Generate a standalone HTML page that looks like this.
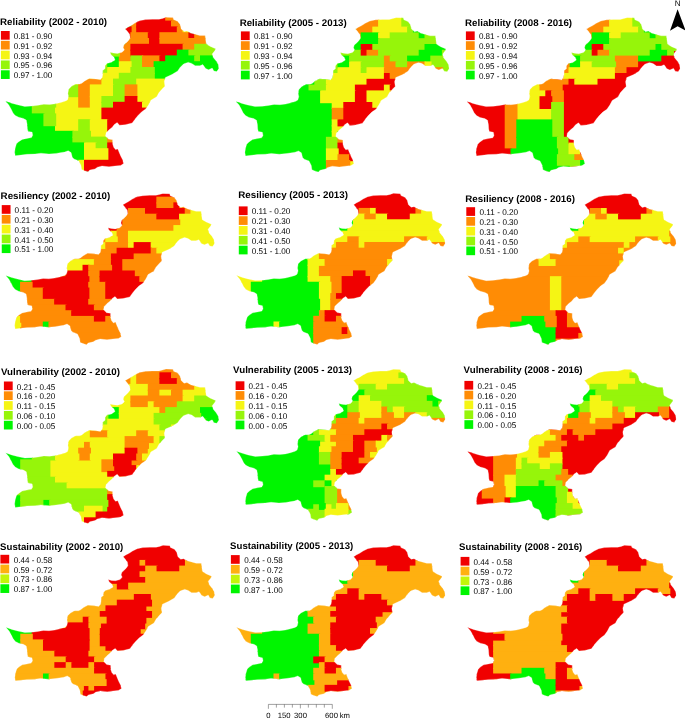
<!DOCTYPE html><html><head><meta charset="utf-8"><title>Maps</title><style>html,body{margin:0;padding:0;background:#fff}svg{display:block}text{font-family:"Liberation Sans",Arial,sans-serif;fill:#000;text-rendering:geometricPrecision}</style></head><body><svg width="685" height="718" viewBox="0 0 685 718"><rect width="685" height="718" fill="#fff"/><defs><clipPath id="pk"><path d="M5.5,101.0 11.7,103.2 17.5,104.8 24.8,106.4 32.1,106.0 38.0,105.3 43.8,104.2 49.6,104.5 55.5,103.8 60.7,102.6 65.4,101.1 67.5,99.9 68.5,96.5 67.9,93.6 68.6,89.2 71.5,86.3 75.9,84.1 79.6,84.1 81.8,83.2 84.7,80.9 89.3,78.5 95.8,79.0 100.4,79.7 102.2,77.4 102.8,73.9 102.8,70.4 105.1,68.6 105.1,65.7 106.9,63.4 111.5,62.2 115.0,59.9 113.9,57.0 110.9,54.6 110.1,52.3 113.3,53.1 117.4,53.5 122.0,52.3 124.4,50.0 123.2,47.6 123.8,45.3 125.5,43.5 127.9,41.2 130.2,38.3 129.6,34.2 127.3,31.3 125.3,28.9 127.9,27.2 131.4,25.4 134.9,23.1 139.6,20.8 145.4,19.6 152.4,19.2 159.0,19.2 162.5,18.4 166.0,17.3 173.0,17.6 173.6,19.6 177.7,21.4 180.0,24.3 181.2,28.9 184.1,31.6 187.0,30.9 190.5,33.0 195.2,34.2 199.9,35.6 205.1,35.6 205.7,40.0 206.3,44.1 210.4,46.5 215.7,48.8 214.5,51.1 212.2,54.0 213.3,57.6 216.2,61.1 218.3,64.6 218.8,68.6 216.8,71.6 213.9,71.0 212.2,68.1 208.6,69.8 205.7,68.6 202.8,64.6 199.9,65.7 195.2,65.7 191.7,63.4 188.2,62.2 183.5,64.0 180.0,67.5 177.7,71.0 171.9,74.5 165.4,77.4 164.3,81.5 164.9,86.2 162.6,88.5 159.0,92.6 156.7,96.7 150.9,100.2 148.5,104.9 145.6,109.0 141.5,111.9 138.0,115.4 135.1,118.9 132.2,123.0 125.2,124.7 119.5,125.2 117.2,122.6 114.3,124.5 112.0,127.4 109.0,129.8 106.1,132.7 105.5,136.2 108.5,139.1 112.6,139.7 112.6,143.8 113.7,147.3 115.5,149.6 117.8,149.0 119.0,152.0 120.7,156.1 122.5,159.6 123.6,163.6 120.7,165.4 114.9,166.0 109.0,166.8 102.0,166.0 97.4,167.2 95.0,168.9 89.8,170.1 88.0,171.8 84.5,170.7 81.6,169.5 81.0,165.4 78.7,160.7 74.0,159.0 72.3,157.2 71.1,152.6 68.2,150.7 64.7,152.0 60.0,152.7 56.0,153.4 49.0,154.0 40.9,153.2 35.0,154.0 26.9,154.3 21.0,155.1 15.2,155.7 14.6,152.2 15.2,148.1 16.4,144.0 18.7,141.7 22.2,139.4 26.9,138.4 31.5,137.6 32.7,135.3 32.1,132.1 28.0,131.2 27.4,128.9 27.1,124.2 26.3,120.1 23.4,118.4 18.7,117.2 15.2,115.4 12.8,112.5 11.1,109.0 8.8,104.9Z"/></clipPath></defs><g transform="translate(0,0) scale(1)"><g clip-path="url(#pk)"><rect x="2.8" y="3.2" width="221.6" height="12.8" fill="#00f500"/><rect x="2.8" y="171.4" width="221.6" height="7.0" fill="#00f500"/><rect x="2.8" y="14.8" width="99.8" height="7.0" fill="#00f500"/><rect x="2.8" y="49.6" width="99.8" height="7.0" fill="#00f500"/><rect x="2.8" y="61.2" width="99.8" height="12.8" fill="#00f500"/><rect x="101.4" y="14.8" width="65.0" height="7.0" fill="#f00000"/><rect x="165.2" y="14.8" width="24.4" height="7.0" fill="#ff8c05"/><rect x="188.4" y="14.8" width="36.0" height="18.6" fill="#00f500"/><rect x="2.8" y="20.6" width="128.8" height="7.0" fill="#00f500"/><rect x="130.4" y="20.6" width="7.0" height="12.8" fill="#ff8c05"/><rect x="136.2" y="20.6" width="36.0" height="7.0" fill="#f00000"/><rect x="171.0" y="20.6" width="18.6" height="7.0" fill="#ff8c05"/><rect x="2.8" y="26.4" width="123.0" height="18.6" fill="#00f500"/><rect x="124.6" y="26.4" width="7.0" height="12.8" fill="#f00000"/><rect x="136.2" y="26.4" width="41.8" height="7.0" fill="#f00000"/><rect x="176.8" y="26.4" width="7.0" height="7.0" fill="#ff8c05"/><rect x="182.6" y="26.4" width="7.0" height="7.0" fill="#f5f514"/><rect x="130.4" y="32.2" width="18.6" height="7.0" fill="#ff8c05"/><rect x="147.8" y="32.2" width="12.8" height="12.8" fill="#f00000"/><rect x="159.4" y="32.2" width="30.2" height="7.0" fill="#ff8c05"/><rect x="188.4" y="32.2" width="7.0" height="7.0" fill="#f00000"/><rect x="194.2" y="32.2" width="12.8" height="7.0" fill="#ff8c05"/><rect x="205.8" y="32.2" width="18.6" height="12.8" fill="#00f500"/><rect x="124.6" y="38.0" width="24.4" height="7.0" fill="#ff8c05"/><rect x="159.4" y="38.0" width="47.6" height="7.0" fill="#ff8c05"/><rect x="2.8" y="43.8" width="117.2" height="7.0" fill="#00f500"/><rect x="2.8" y="55.4" width="117.2" height="7.0" fill="#00f500"/><rect x="118.8" y="43.8" width="12.8" height="18.6" fill="#ff8c05"/><rect x="130.4" y="43.8" width="53.4" height="7.0" fill="#f00000"/><rect x="182.6" y="43.8" width="12.8" height="7.0" fill="#ff8c05"/><rect x="194.2" y="43.8" width="30.2" height="7.0" fill="#96f50a"/><rect x="101.4" y="49.6" width="18.6" height="7.0" fill="#96f50a"/><rect x="130.4" y="49.6" width="47.6" height="7.0" fill="#f00000"/><rect x="176.8" y="49.6" width="12.8" height="7.0" fill="#00f500"/><rect x="188.4" y="49.6" width="30.2" height="7.0" fill="#96f50a"/><rect x="217.4" y="49.6" width="7.0" height="7.0" fill="#00f500"/><rect x="130.4" y="55.4" width="12.8" height="12.8" fill="#96f50a"/><rect x="142.0" y="55.4" width="18.6" height="7.0" fill="#ff8c05"/><rect x="159.4" y="55.4" width="7.0" height="7.0" fill="#f00000"/><rect x="165.2" y="55.4" width="30.2" height="7.0" fill="#00f500"/><rect x="194.2" y="55.4" width="7.0" height="7.0" fill="#96f50a"/><rect x="200.0" y="55.4" width="24.4" height="7.0" fill="#00f500"/><rect x="101.4" y="61.2" width="7.0" height="12.8" fill="#96f50a"/><rect x="107.2" y="61.2" width="12.8" height="7.0" fill="#00f500"/><rect x="118.8" y="61.2" width="12.8" height="7.0" fill="#f5f514"/><rect x="142.0" y="61.2" width="12.8" height="7.0" fill="#ff8c05"/><rect x="153.6" y="61.2" width="70.8" height="18.6" fill="#00f500"/><rect x="107.2" y="67.0" width="24.4" height="7.0" fill="#f5f514"/><rect x="130.4" y="67.0" width="24.4" height="7.0" fill="#96f50a"/><rect x="2.8" y="72.8" width="53.4" height="30.2" fill="#00f500"/><rect x="2.8" y="125.0" width="53.4" height="7.0" fill="#00f500"/><rect x="55.0" y="72.8" width="65.0" height="7.0" fill="#f5f514"/><rect x="118.8" y="72.8" width="36.0" height="7.0" fill="#96f50a"/><rect x="55.0" y="78.6" width="24.4" height="7.0" fill="#f5f514"/><rect x="55.0" y="96.0" width="24.4" height="12.8" fill="#f5f514"/><rect x="55.0" y="119.2" width="24.4" height="12.8" fill="#f5f514"/><rect x="78.2" y="78.6" width="24.4" height="7.0" fill="#ff8c05"/><rect x="101.4" y="78.6" width="12.8" height="7.0" fill="#f5f514"/><rect x="113.0" y="78.6" width="24.4" height="7.0" fill="#96f50a"/><rect x="136.2" y="78.6" width="47.6" height="24.4" fill="#f5f514"/><rect x="182.6" y="78.6" width="41.8" height="59.2" fill="#00f500"/><rect x="55.0" y="84.4" width="12.8" height="12.8" fill="#f5f514"/><rect x="66.6" y="84.4" width="12.8" height="12.8" fill="#96f50a"/><rect x="78.2" y="84.4" width="12.8" height="24.4" fill="#ff8c05"/><rect x="89.8" y="84.4" width="24.4" height="12.8" fill="#f5f514"/><rect x="113.0" y="84.4" width="12.8" height="12.8" fill="#96f50a"/><rect x="124.6" y="84.4" width="12.8" height="12.8" fill="#ff8c05"/><rect x="89.8" y="96.0" width="12.8" height="12.8" fill="#f5f514"/><rect x="101.4" y="96.0" width="24.4" height="7.0" fill="#96f50a"/><rect x="124.6" y="96.0" width="12.8" height="7.0" fill="#f00000"/><rect x="2.8" y="101.8" width="30.2" height="12.8" fill="#00f500"/><rect x="31.8" y="101.8" width="24.4" height="12.8" fill="#96f50a"/><rect x="101.4" y="101.8" width="12.8" height="7.0" fill="#96f50a"/><rect x="113.0" y="101.8" width="30.2" height="7.0" fill="#f00000"/><rect x="142.0" y="101.8" width="41.8" height="7.0" fill="#f5f514"/><rect x="55.0" y="107.6" width="47.6" height="12.8" fill="#f5f514"/><rect x="101.4" y="107.6" width="82.4" height="12.8" fill="#f00000"/><rect x="2.8" y="113.4" width="41.8" height="12.8" fill="#00f500"/><rect x="43.4" y="113.4" width="12.8" height="12.8" fill="#96f50a"/><rect x="78.2" y="119.2" width="12.8" height="12.8" fill="#96f50a"/><rect x="89.8" y="119.2" width="18.6" height="18.6" fill="#f5f514"/><rect x="107.2" y="119.2" width="76.6" height="18.6" fill="#f00000"/><rect x="2.8" y="130.8" width="70.8" height="12.8" fill="#00f500"/><rect x="72.4" y="130.8" width="18.6" height="7.0" fill="#96f50a"/><rect x="72.4" y="136.6" width="36.0" height="7.0" fill="#96f50a"/><rect x="107.2" y="136.6" width="7.0" height="7.0" fill="#ff8c05"/><rect x="113.0" y="136.6" width="111.4" height="7.0" fill="#00f500"/><rect x="2.8" y="142.4" width="82.4" height="18.6" fill="#00f500"/><rect x="84.0" y="142.4" width="12.8" height="7.0" fill="#f5f514"/><rect x="95.6" y="142.4" width="12.8" height="7.0" fill="#96f50a"/><rect x="107.2" y="142.4" width="24.4" height="18.6" fill="#f00000"/><rect x="130.4" y="142.4" width="94.0" height="30.2" fill="#00f500"/><rect x="84.0" y="148.2" width="24.4" height="12.8" fill="#f5f514"/><rect x="2.8" y="159.8" width="76.6" height="12.8" fill="#00f500"/><rect x="78.2" y="159.8" width="7.0" height="12.8" fill="#f5f514"/><rect x="84.0" y="159.8" width="47.6" height="12.8" fill="#f00000"/></g><path d="M5.5,101.0 11.7,103.2 17.5,104.8 24.8,106.4 32.1,106.0 38.0,105.3 43.8,104.2 49.6,104.5 55.5,103.8 60.7,102.6 65.4,101.1 67.5,99.9 68.5,96.5 67.9,93.6 68.6,89.2 71.5,86.3 75.9,84.1 79.6,84.1 81.8,83.2 84.7,80.9 89.3,78.5 95.8,79.0 100.4,79.7 102.2,77.4 102.8,73.9 102.8,70.4 105.1,68.6 105.1,65.7 106.9,63.4 111.5,62.2 115.0,59.9 113.9,57.0 110.9,54.6 110.1,52.3 113.3,53.1 117.4,53.5 122.0,52.3 124.4,50.0 123.2,47.6 123.8,45.3 125.5,43.5 127.9,41.2 130.2,38.3 129.6,34.2 127.3,31.3 125.3,28.9 127.9,27.2 131.4,25.4 134.9,23.1 139.6,20.8 145.4,19.6 152.4,19.2 159.0,19.2 162.5,18.4 166.0,17.3 173.0,17.6 173.6,19.6 177.7,21.4 180.0,24.3 181.2,28.9 184.1,31.6 187.0,30.9 190.5,33.0 195.2,34.2 199.9,35.6 205.1,35.6 205.7,40.0 206.3,44.1 210.4,46.5 215.7,48.8 214.5,51.1 212.2,54.0 213.3,57.6 216.2,61.1 218.3,64.6 218.8,68.6 216.8,71.6 213.9,71.0 212.2,68.1 208.6,69.8 205.7,68.6 202.8,64.6 199.9,65.7 195.2,65.7 191.7,63.4 188.2,62.2 183.5,64.0 180.0,67.5 177.7,71.0 171.9,74.5 165.4,77.4 164.3,81.5 164.9,86.2 162.6,88.5 159.0,92.6 156.7,96.7 150.9,100.2 148.5,104.9 145.6,109.0 141.5,111.9 138.0,115.4 135.1,118.9 132.2,123.0 125.2,124.7 119.5,125.2 117.2,122.6 114.3,124.5 112.0,127.4 109.0,129.8 106.1,132.7 105.5,136.2 108.5,139.1 112.6,139.7 112.6,143.8 113.7,147.3 115.5,149.6 117.8,149.0 119.0,152.0 120.7,156.1 122.5,159.6 123.6,163.6 120.7,165.4 114.9,166.0 109.0,166.8 102.0,166.0 97.4,167.2 95.0,168.9 89.8,170.1 88.0,171.8 84.5,170.7 81.6,169.5 81.0,165.4 78.7,160.7 74.0,159.0 72.3,157.2 71.1,152.6 68.2,150.7 64.7,152.0 60.0,152.7 56.0,153.4 49.0,154.0 40.9,153.2 35.0,154.0 26.9,154.3 21.0,155.1 15.2,155.7 14.6,152.2 15.2,148.1 16.4,144.0 18.7,141.7 22.2,139.4 26.9,138.4 31.5,137.6 32.7,135.3 32.1,132.1 28.0,131.2 27.4,128.9 27.1,124.2 26.3,120.1 23.4,118.4 18.7,117.2 15.2,115.4 12.8,112.5 11.1,109.0 8.8,104.9Z" fill="none" stroke="#fff" stroke-opacity="0.35" stroke-width="0.8"/></g><text x="0.10" y="24.90" font-size="9.6" font-weight="bold" textLength="107.0" lengthAdjust="spacingAndGlyphs">Reliability (2002 - 2010)</text><rect x="0.9" y="31.00" width="8.8" height="8.7" fill="#f00000"/><text x="13.70" y="39.00" font-size="8.3" textLength="38.6" lengthAdjust="spacingAndGlyphs" fill="#111">0.81 - 0.90</text><rect x="0.9" y="40.82" width="8.8" height="8.7" fill="#ff8c05"/><text x="13.70" y="48.82" font-size="8.3" textLength="38.6" lengthAdjust="spacingAndGlyphs" fill="#111">0.91 - 0.92</text><rect x="0.9" y="50.64" width="8.8" height="8.7" fill="#f5f514"/><text x="13.70" y="58.64" font-size="8.3" textLength="38.6" lengthAdjust="spacingAndGlyphs" fill="#111">0.93 - 0.94</text><rect x="0.9" y="60.46" width="8.8" height="8.7" fill="#96f50a"/><text x="13.70" y="68.46" font-size="8.3" textLength="38.6" lengthAdjust="spacingAndGlyphs" fill="#111">0.95 - 0.96</text><rect x="0.9" y="70.28" width="8.8" height="8.7" fill="#00f500"/><text x="13.70" y="78.28" font-size="8.3" textLength="38.6" lengthAdjust="spacingAndGlyphs" fill="#111">0.97 - 1.00</text><g transform="translate(230.3,0.2) scale(1)"><g clip-path="url(#pk)"><rect x="2.8" y="3.2" width="221.6" height="12.8" fill="#00f500"/><rect x="2.8" y="171.4" width="221.6" height="7.0" fill="#00f500"/><rect x="2.8" y="14.8" width="123.0" height="24.4" fill="#00f500"/><rect x="124.6" y="14.8" width="24.4" height="12.8" fill="#ff8c05"/><rect x="147.8" y="14.8" width="24.4" height="12.8" fill="#f5f514"/><rect x="171.0" y="14.8" width="18.6" height="12.8" fill="#96f50a"/><rect x="188.4" y="14.8" width="36.0" height="12.8" fill="#00f500"/><rect x="124.6" y="26.4" width="18.6" height="7.0" fill="#ff8c05"/><rect x="142.0" y="26.4" width="36.0" height="7.0" fill="#f5f514"/><rect x="176.8" y="26.4" width="7.0" height="7.0" fill="#96f50a"/><rect x="182.6" y="26.4" width="41.8" height="7.0" fill="#00f500"/><rect x="124.6" y="32.2" width="7.0" height="7.0" fill="#ff8c05"/><rect x="130.4" y="32.2" width="18.6" height="7.0" fill="#00f500"/><rect x="147.8" y="32.2" width="12.8" height="7.0" fill="#f5f514"/><rect x="159.4" y="32.2" width="30.2" height="7.0" fill="#96f50a"/><rect x="188.4" y="32.2" width="7.0" height="7.0" fill="#00f500"/><rect x="194.2" y="32.2" width="18.6" height="7.0" fill="#96f50a"/><rect x="211.6" y="32.2" width="12.8" height="12.8" fill="#00f500"/><rect x="2.8" y="38.0" width="146.2" height="7.0" fill="#00f500"/><rect x="147.8" y="38.0" width="65.0" height="7.0" fill="#96f50a"/><rect x="2.8" y="43.8" width="128.8" height="7.0" fill="#00f500"/><rect x="130.4" y="43.8" width="12.8" height="7.0" fill="#f00000"/><rect x="142.0" y="43.8" width="53.4" height="7.0" fill="#96f50a"/><rect x="194.2" y="43.8" width="30.2" height="7.0" fill="#00f500"/><rect x="2.8" y="49.6" width="99.8" height="7.0" fill="#00f500"/><rect x="2.8" y="61.2" width="99.8" height="18.6" fill="#00f500"/><rect x="2.8" y="101.8" width="99.8" height="36.0" fill="#00f500"/><rect x="101.4" y="49.6" width="30.2" height="7.0" fill="#96f50a"/><rect x="130.4" y="49.6" width="7.0" height="7.0" fill="#f00000"/><rect x="136.2" y="49.6" width="12.8" height="7.0" fill="#ff8c05"/><rect x="147.8" y="49.6" width="41.8" height="7.0" fill="#96f50a"/><rect x="188.4" y="49.6" width="24.4" height="7.0" fill="#00f500"/><rect x="211.6" y="49.6" width="12.8" height="7.0" fill="#96f50a"/><rect x="211.6" y="67.0" width="12.8" height="7.0" fill="#96f50a"/><rect x="2.8" y="55.4" width="117.2" height="7.0" fill="#00f500"/><rect x="118.8" y="55.4" width="36.0" height="7.0" fill="#96f50a"/><rect x="153.6" y="55.4" width="7.0" height="7.0" fill="#ff8c05"/><rect x="159.4" y="55.4" width="18.6" height="7.0" fill="#96f50a"/><rect x="176.8" y="55.4" width="24.4" height="7.0" fill="#00f500"/><rect x="200.0" y="55.4" width="24.4" height="12.8" fill="#96f50a"/><rect x="101.4" y="61.2" width="7.0" height="12.8" fill="#96f50a"/><rect x="107.2" y="61.2" width="12.8" height="7.0" fill="#00f500"/><rect x="118.8" y="61.2" width="12.8" height="7.0" fill="#f5f514"/><rect x="118.8" y="159.8" width="12.8" height="12.8" fill="#f5f514"/><rect x="130.4" y="61.2" width="24.4" height="7.0" fill="#96f50a"/><rect x="153.6" y="61.2" width="12.8" height="7.0" fill="#ff8c05"/><rect x="165.2" y="61.2" width="12.8" height="7.0" fill="#96f50a"/><rect x="176.8" y="61.2" width="18.6" height="7.0" fill="#ff8c05"/><rect x="194.2" y="61.2" width="7.0" height="7.0" fill="#f5f514"/><rect x="107.2" y="67.0" width="24.4" height="7.0" fill="#f5f514"/><rect x="130.4" y="67.0" width="7.0" height="7.0" fill="#96f50a"/><rect x="136.2" y="67.0" width="18.6" height="7.0" fill="#f5f514"/><rect x="153.6" y="67.0" width="30.2" height="7.0" fill="#ff8c05"/><rect x="182.6" y="67.0" width="18.6" height="7.0" fill="#00f500"/><rect x="200.0" y="67.0" width="12.8" height="7.0" fill="#ff8c05"/><rect x="101.4" y="72.8" width="53.4" height="7.0" fill="#f5f514"/><rect x="153.6" y="72.8" width="7.0" height="7.0" fill="#f00000"/><rect x="159.4" y="72.8" width="18.6" height="7.0" fill="#ff8c05"/><rect x="176.8" y="72.8" width="47.6" height="7.0" fill="#00f500"/><rect x="2.8" y="78.6" width="82.4" height="7.0" fill="#00f500"/><rect x="84.0" y="78.6" width="12.8" height="7.0" fill="#96f50a"/><rect x="95.6" y="78.6" width="41.8" height="7.0" fill="#f5f514"/><rect x="136.2" y="78.6" width="36.0" height="7.0" fill="#f00000"/><rect x="171.0" y="78.6" width="53.4" height="7.0" fill="#00f500"/><rect x="2.8" y="84.4" width="76.6" height="7.0" fill="#00f500"/><rect x="78.2" y="84.4" width="18.6" height="7.0" fill="#96f50a"/><rect x="95.6" y="84.4" width="30.2" height="7.0" fill="#f5f514"/><rect x="124.6" y="84.4" width="30.2" height="7.0" fill="#f00000"/><rect x="153.6" y="84.4" width="7.0" height="7.0" fill="#f5f514"/><rect x="159.4" y="84.4" width="7.0" height="7.0" fill="#f00000"/><rect x="165.2" y="84.4" width="59.2" height="18.6" fill="#00f500"/><rect x="2.8" y="90.2" width="88.2" height="12.8" fill="#00f500"/><rect x="89.8" y="90.2" width="36.0" height="12.8" fill="#f5f514"/><rect x="124.6" y="90.2" width="12.8" height="12.8" fill="#f00000"/><rect x="136.2" y="90.2" width="30.2" height="12.8" fill="#f5f514"/><rect x="101.4" y="101.8" width="12.8" height="7.0" fill="#f5f514"/><rect x="101.4" y="125.0" width="12.8" height="7.0" fill="#f5f514"/><rect x="113.0" y="101.8" width="30.2" height="7.0" fill="#f00000"/><rect x="142.0" y="101.8" width="18.6" height="7.0" fill="#f5f514"/><rect x="159.4" y="101.8" width="65.0" height="18.6" fill="#00f500"/><rect x="101.4" y="107.6" width="12.8" height="12.8" fill="#ff8c05"/><rect x="113.0" y="107.6" width="47.6" height="12.8" fill="#f00000"/><rect x="101.4" y="119.2" width="7.0" height="7.0" fill="#f5f514"/><rect x="101.4" y="130.8" width="7.0" height="7.0" fill="#f5f514"/><rect x="107.2" y="119.2" width="41.8" height="7.0" fill="#f00000"/><rect x="147.8" y="119.2" width="76.6" height="7.0" fill="#00f500"/><rect x="113.0" y="125.0" width="24.4" height="7.0" fill="#f00000"/><rect x="136.2" y="125.0" width="88.2" height="7.0" fill="#00f500"/><rect x="107.2" y="130.8" width="117.2" height="7.0" fill="#00f500"/><rect x="2.8" y="136.6" width="94.0" height="36.0" fill="#00f500"/><rect x="95.6" y="136.6" width="12.8" height="12.8" fill="#96f50a"/><rect x="107.2" y="136.6" width="7.0" height="7.0" fill="#ff8c05"/><rect x="113.0" y="136.6" width="111.4" height="7.0" fill="#00f500"/><rect x="107.2" y="142.4" width="24.4" height="12.8" fill="#f00000"/><rect x="130.4" y="142.4" width="94.0" height="30.2" fill="#00f500"/><rect x="95.6" y="148.2" width="12.8" height="12.8" fill="#f5f514"/><rect x="107.2" y="154.0" width="12.8" height="7.0" fill="#ff8c05"/><rect x="118.8" y="154.0" width="12.8" height="7.0" fill="#f00000"/><rect x="95.6" y="159.8" width="24.4" height="12.8" fill="#ff8c05"/></g><path d="M5.5,101.0 11.7,103.2 17.5,104.8 24.8,106.4 32.1,106.0 38.0,105.3 43.8,104.2 49.6,104.5 55.5,103.8 60.7,102.6 65.4,101.1 67.5,99.9 68.5,96.5 67.9,93.6 68.6,89.2 71.5,86.3 75.9,84.1 79.6,84.1 81.8,83.2 84.7,80.9 89.3,78.5 95.8,79.0 100.4,79.7 102.2,77.4 102.8,73.9 102.8,70.4 105.1,68.6 105.1,65.7 106.9,63.4 111.5,62.2 115.0,59.9 113.9,57.0 110.9,54.6 110.1,52.3 113.3,53.1 117.4,53.5 122.0,52.3 124.4,50.0 123.2,47.6 123.8,45.3 125.5,43.5 127.9,41.2 130.2,38.3 129.6,34.2 127.3,31.3 125.3,28.9 127.9,27.2 131.4,25.4 134.9,23.1 139.6,20.8 145.4,19.6 152.4,19.2 159.0,19.2 162.5,18.4 166.0,17.3 173.0,17.6 173.6,19.6 177.7,21.4 180.0,24.3 181.2,28.9 184.1,31.6 187.0,30.9 190.5,33.0 195.2,34.2 199.9,35.6 205.1,35.6 205.7,40.0 206.3,44.1 210.4,46.5 215.7,48.8 214.5,51.1 212.2,54.0 213.3,57.6 216.2,61.1 218.3,64.6 218.8,68.6 216.8,71.6 213.9,71.0 212.2,68.1 208.6,69.8 205.7,68.6 202.8,64.6 199.9,65.7 195.2,65.7 191.7,63.4 188.2,62.2 183.5,64.0 180.0,67.5 177.7,71.0 171.9,74.5 165.4,77.4 164.3,81.5 164.9,86.2 162.6,88.5 159.0,92.6 156.7,96.7 150.9,100.2 148.5,104.9 145.6,109.0 141.5,111.9 138.0,115.4 135.1,118.9 132.2,123.0 125.2,124.7 119.5,125.2 117.2,122.6 114.3,124.5 112.0,127.4 109.0,129.8 106.1,132.7 105.5,136.2 108.5,139.1 112.6,139.7 112.6,143.8 113.7,147.3 115.5,149.6 117.8,149.0 119.0,152.0 120.7,156.1 122.5,159.6 123.6,163.6 120.7,165.4 114.9,166.0 109.0,166.8 102.0,166.0 97.4,167.2 95.0,168.9 89.8,170.1 88.0,171.8 84.5,170.7 81.6,169.5 81.0,165.4 78.7,160.7 74.0,159.0 72.3,157.2 71.1,152.6 68.2,150.7 64.7,152.0 60.0,152.7 56.0,153.4 49.0,154.0 40.9,153.2 35.0,154.0 26.9,154.3 21.0,155.1 15.2,155.7 14.6,152.2 15.2,148.1 16.4,144.0 18.7,141.7 22.2,139.4 26.9,138.4 31.5,137.6 32.7,135.3 32.1,132.1 28.0,131.2 27.4,128.9 27.1,124.2 26.3,120.1 23.4,118.4 18.7,117.2 15.2,115.4 12.8,112.5 11.1,109.0 8.8,104.9Z" fill="none" stroke="#fff" stroke-opacity="0.35" stroke-width="0.8"/></g><text x="239.70" y="25.60" font-size="9.6" font-weight="bold" textLength="107.0" lengthAdjust="spacingAndGlyphs">Reliability (2005 - 2013)</text><rect x="240.9" y="31.40" width="8.8" height="8.7" fill="#f00000"/><text x="253.90" y="39.40" font-size="8.3" textLength="38.6" lengthAdjust="spacingAndGlyphs" fill="#111">0.81 - 0.90</text><rect x="240.9" y="41.22" width="8.8" height="8.7" fill="#ff8c05"/><text x="253.90" y="49.22" font-size="8.3" textLength="38.6" lengthAdjust="spacingAndGlyphs" fill="#111">0.91 - 0.92</text><rect x="240.9" y="51.04" width="8.8" height="8.7" fill="#f5f514"/><text x="253.90" y="59.04" font-size="8.3" textLength="38.6" lengthAdjust="spacingAndGlyphs" fill="#111">0.93 - 0.94</text><rect x="240.9" y="60.86" width="8.8" height="8.7" fill="#96f50a"/><text x="253.90" y="68.86" font-size="8.3" textLength="38.6" lengthAdjust="spacingAndGlyphs" fill="#111">0.95 - 0.96</text><rect x="240.9" y="70.68" width="8.8" height="8.7" fill="#00f500"/><text x="253.90" y="78.68" font-size="8.3" textLength="38.6" lengthAdjust="spacingAndGlyphs" fill="#111">0.97 - 1.00</text><g transform="translate(461.3,0.2) scale(1)"><g clip-path="url(#pk)"><rect x="2.8" y="3.2" width="221.6" height="12.8" fill="#f00000"/><rect x="2.8" y="171.4" width="221.6" height="7.0" fill="#f00000"/><rect x="2.8" y="14.8" width="123.0" height="30.2" fill="#f00000"/><rect x="124.6" y="14.8" width="24.4" height="12.8" fill="#ff8c05"/><rect x="147.8" y="14.8" width="24.4" height="12.8" fill="#f5f514"/><rect x="171.0" y="14.8" width="18.6" height="12.8" fill="#96f50a"/><rect x="188.4" y="14.8" width="36.0" height="12.8" fill="#00f500"/><rect x="124.6" y="26.4" width="18.6" height="7.0" fill="#ff8c05"/><rect x="142.0" y="26.4" width="36.0" height="7.0" fill="#f5f514"/><rect x="176.8" y="26.4" width="7.0" height="7.0" fill="#96f50a"/><rect x="182.6" y="26.4" width="41.8" height="7.0" fill="#00f500"/><rect x="124.6" y="32.2" width="7.0" height="7.0" fill="#ff8c05"/><rect x="130.4" y="32.2" width="18.6" height="7.0" fill="#00f500"/><rect x="147.8" y="32.2" width="12.8" height="7.0" fill="#f5f514"/><rect x="159.4" y="32.2" width="30.2" height="7.0" fill="#96f50a"/><rect x="188.4" y="32.2" width="7.0" height="7.0" fill="#00f500"/><rect x="194.2" y="32.2" width="18.6" height="7.0" fill="#96f50a"/><rect x="211.6" y="32.2" width="12.8" height="12.8" fill="#f00000"/><rect x="211.6" y="49.6" width="12.8" height="7.0" fill="#f00000"/><rect x="124.6" y="38.0" width="24.4" height="7.0" fill="#00f500"/><rect x="147.8" y="38.0" width="65.0" height="7.0" fill="#96f50a"/><rect x="2.8" y="43.8" width="117.2" height="7.0" fill="#f00000"/><rect x="118.8" y="43.8" width="12.8" height="7.0" fill="#00f500"/><rect x="130.4" y="43.8" width="12.8" height="7.0" fill="#f00000"/><rect x="142.0" y="43.8" width="53.4" height="7.0" fill="#96f50a"/><rect x="194.2" y="43.8" width="7.0" height="7.0" fill="#00f500"/><rect x="200.0" y="43.8" width="24.4" height="7.0" fill="#96f50a"/><rect x="2.8" y="49.6" width="99.8" height="7.0" fill="#f00000"/><rect x="2.8" y="61.2" width="99.8" height="12.8" fill="#f00000"/><rect x="101.4" y="49.6" width="30.2" height="7.0" fill="#96f50a"/><rect x="130.4" y="49.6" width="7.0" height="7.0" fill="#f00000"/><rect x="136.2" y="49.6" width="12.8" height="7.0" fill="#ff8c05"/><rect x="147.8" y="49.6" width="41.8" height="7.0" fill="#96f50a"/><rect x="188.4" y="49.6" width="18.6" height="7.0" fill="#00f500"/><rect x="205.8" y="49.6" width="7.0" height="7.0" fill="#96f50a"/><rect x="2.8" y="55.4" width="105.6" height="7.0" fill="#f00000"/><rect x="107.2" y="55.4" width="12.8" height="12.8" fill="#00f500"/><rect x="118.8" y="55.4" width="36.0" height="7.0" fill="#96f50a"/><rect x="153.6" y="55.4" width="24.4" height="12.8" fill="#ff8c05"/><rect x="176.8" y="55.4" width="24.4" height="7.0" fill="#00f500"/><rect x="200.0" y="55.4" width="24.4" height="7.0" fill="#f00000"/><rect x="101.4" y="61.2" width="7.0" height="12.8" fill="#ff8c05"/><rect x="118.8" y="61.2" width="12.8" height="7.0" fill="#f5f514"/><rect x="130.4" y="61.2" width="24.4" height="7.0" fill="#96f50a"/><rect x="176.8" y="61.2" width="47.6" height="7.0" fill="#f00000"/><rect x="107.2" y="67.0" width="47.6" height="7.0" fill="#f5f514"/><rect x="153.6" y="67.0" width="12.8" height="7.0" fill="#ff8c05"/><rect x="165.2" y="67.0" width="59.2" height="7.0" fill="#f00000"/><rect x="2.8" y="72.8" width="53.4" height="30.2" fill="#f00000"/><rect x="55.0" y="72.8" width="36.0" height="7.0" fill="#f5f514"/><rect x="55.0" y="107.6" width="36.0" height="12.8" fill="#f5f514"/><rect x="89.8" y="72.8" width="12.8" height="7.0" fill="#f00000"/><rect x="101.4" y="72.8" width="53.4" height="7.0" fill="#f5f514"/><rect x="153.6" y="72.8" width="70.8" height="7.0" fill="#f00000"/><rect x="55.0" y="78.6" width="24.4" height="12.8" fill="#f5f514"/><rect x="55.0" y="96.0" width="24.4" height="12.8" fill="#f5f514"/><rect x="78.2" y="78.6" width="30.2" height="7.0" fill="#ff8c05"/><rect x="107.2" y="78.6" width="7.0" height="7.0" fill="#f00000"/><rect x="113.0" y="78.6" width="24.4" height="7.0" fill="#f5f514"/><rect x="136.2" y="78.6" width="88.2" height="7.0" fill="#f00000"/><rect x="78.2" y="84.4" width="24.4" height="7.0" fill="#ff8c05"/><rect x="101.4" y="84.4" width="123.0" height="53.4" fill="#f00000"/><rect x="55.0" y="90.2" width="30.2" height="7.0" fill="#f5f514"/><rect x="84.0" y="90.2" width="7.0" height="7.0" fill="#f00000"/><rect x="89.8" y="90.2" width="12.8" height="12.8" fill="#ff8c05"/><rect x="78.2" y="96.0" width="12.8" height="12.8" fill="#f00000"/><rect x="2.8" y="101.8" width="41.8" height="47.6" fill="#f00000"/><rect x="43.4" y="101.8" width="12.8" height="47.6" fill="#ff8c05"/><rect x="89.8" y="101.8" width="12.8" height="36.0" fill="#96f50a"/><rect x="55.0" y="119.2" width="36.0" height="18.6" fill="#00f500"/><rect x="55.0" y="136.6" width="41.8" height="12.8" fill="#00f500"/><rect x="95.6" y="136.6" width="12.8" height="18.6" fill="#96f50a"/><rect x="107.2" y="136.6" width="117.2" height="7.0" fill="#f00000"/><rect x="107.2" y="165.6" width="117.2" height="7.0" fill="#f00000"/><rect x="107.2" y="142.4" width="12.8" height="12.8" fill="#f5f514"/><rect x="118.8" y="142.4" width="105.6" height="12.8" fill="#f00000"/><rect x="2.8" y="148.2" width="47.6" height="24.4" fill="#f00000"/><rect x="49.2" y="148.2" width="47.6" height="18.6" fill="#00f500"/><rect x="95.6" y="154.0" width="18.6" height="7.0" fill="#96f50a"/><rect x="113.0" y="154.0" width="12.8" height="7.0" fill="#ff8c05"/><rect x="124.6" y="154.0" width="99.8" height="12.8" fill="#f00000"/><rect x="95.6" y="159.8" width="24.4" height="7.0" fill="#96f50a"/><rect x="118.8" y="159.8" width="7.0" height="7.0" fill="#00f500"/><rect x="49.2" y="165.6" width="59.2" height="7.0" fill="#00f500"/></g><path d="M5.5,101.0 11.7,103.2 17.5,104.8 24.8,106.4 32.1,106.0 38.0,105.3 43.8,104.2 49.6,104.5 55.5,103.8 60.7,102.6 65.4,101.1 67.5,99.9 68.5,96.5 67.9,93.6 68.6,89.2 71.5,86.3 75.9,84.1 79.6,84.1 81.8,83.2 84.7,80.9 89.3,78.5 95.8,79.0 100.4,79.7 102.2,77.4 102.8,73.9 102.8,70.4 105.1,68.6 105.1,65.7 106.9,63.4 111.5,62.2 115.0,59.9 113.9,57.0 110.9,54.6 110.1,52.3 113.3,53.1 117.4,53.5 122.0,52.3 124.4,50.0 123.2,47.6 123.8,45.3 125.5,43.5 127.9,41.2 130.2,38.3 129.6,34.2 127.3,31.3 125.3,28.9 127.9,27.2 131.4,25.4 134.9,23.1 139.6,20.8 145.4,19.6 152.4,19.2 159.0,19.2 162.5,18.4 166.0,17.3 173.0,17.6 173.6,19.6 177.7,21.4 180.0,24.3 181.2,28.9 184.1,31.6 187.0,30.9 190.5,33.0 195.2,34.2 199.9,35.6 205.1,35.6 205.7,40.0 206.3,44.1 210.4,46.5 215.7,48.8 214.5,51.1 212.2,54.0 213.3,57.6 216.2,61.1 218.3,64.6 218.8,68.6 216.8,71.6 213.9,71.0 212.2,68.1 208.6,69.8 205.7,68.6 202.8,64.6 199.9,65.7 195.2,65.7 191.7,63.4 188.2,62.2 183.5,64.0 180.0,67.5 177.7,71.0 171.9,74.5 165.4,77.4 164.3,81.5 164.9,86.2 162.6,88.5 159.0,92.6 156.7,96.7 150.9,100.2 148.5,104.9 145.6,109.0 141.5,111.9 138.0,115.4 135.1,118.9 132.2,123.0 125.2,124.7 119.5,125.2 117.2,122.6 114.3,124.5 112.0,127.4 109.0,129.8 106.1,132.7 105.5,136.2 108.5,139.1 112.6,139.7 112.6,143.8 113.7,147.3 115.5,149.6 117.8,149.0 119.0,152.0 120.7,156.1 122.5,159.6 123.6,163.6 120.7,165.4 114.9,166.0 109.0,166.8 102.0,166.0 97.4,167.2 95.0,168.9 89.8,170.1 88.0,171.8 84.5,170.7 81.6,169.5 81.0,165.4 78.7,160.7 74.0,159.0 72.3,157.2 71.1,152.6 68.2,150.7 64.7,152.0 60.0,152.7 56.0,153.4 49.0,154.0 40.9,153.2 35.0,154.0 26.9,154.3 21.0,155.1 15.2,155.7 14.6,152.2 15.2,148.1 16.4,144.0 18.7,141.7 22.2,139.4 26.9,138.4 31.5,137.6 32.7,135.3 32.1,132.1 28.0,131.2 27.4,128.9 27.1,124.2 26.3,120.1 23.4,118.4 18.7,117.2 15.2,115.4 12.8,112.5 11.1,109.0 8.8,104.9Z" fill="none" stroke="#fff" stroke-opacity="0.35" stroke-width="0.8"/></g><text x="465.10" y="25.60" font-size="9.6" font-weight="bold" textLength="107.0" lengthAdjust="spacingAndGlyphs">Reliability (2008 - 2016)</text><rect x="465.9" y="31.40" width="8.8" height="8.7" fill="#f00000"/><text x="478.90" y="39.40" font-size="8.3" textLength="38.6" lengthAdjust="spacingAndGlyphs" fill="#111">0.81 - 0.90</text><rect x="465.9" y="41.22" width="8.8" height="8.7" fill="#ff8c05"/><text x="478.90" y="49.22" font-size="8.3" textLength="38.6" lengthAdjust="spacingAndGlyphs" fill="#111">0.91 - 0.92</text><rect x="465.9" y="51.04" width="8.8" height="8.7" fill="#f5f514"/><text x="478.90" y="59.04" font-size="8.3" textLength="38.6" lengthAdjust="spacingAndGlyphs" fill="#111">0.93 - 0.94</text><rect x="465.9" y="60.86" width="8.8" height="8.7" fill="#96f50a"/><text x="478.90" y="68.86" font-size="8.3" textLength="38.6" lengthAdjust="spacingAndGlyphs" fill="#111">0.95 - 0.96</text><rect x="465.9" y="70.68" width="8.8" height="8.7" fill="#00f500"/><text x="478.90" y="78.68" font-size="8.3" textLength="38.6" lengthAdjust="spacingAndGlyphs" fill="#111">0.97 - 1.00</text><g transform="translate(0.3,176.5) scale(0.979)"><g clip-path="url(#pk)"><rect x="2.8" y="3.2" width="30.2" height="105.6" fill="#00f500"/><rect x="31.8" y="3.2" width="192.6" height="12.8" fill="#ff8c05"/><rect x="31.8" y="14.8" width="70.8" height="7.0" fill="#ff8c05"/><rect x="31.8" y="49.6" width="70.8" height="7.0" fill="#ff8c05"/><rect x="31.8" y="67.0" width="70.8" height="7.0" fill="#ff8c05"/><rect x="101.4" y="14.8" width="88.2" height="7.0" fill="#f00000"/><rect x="188.4" y="14.8" width="36.0" height="7.0" fill="#ff8c05"/><rect x="31.8" y="20.6" width="94.0" height="18.6" fill="#ff8c05"/><rect x="124.6" y="20.6" width="36.0" height="12.8" fill="#f00000"/><rect x="159.4" y="20.6" width="65.0" height="7.0" fill="#ff8c05"/><rect x="159.4" y="26.4" width="18.6" height="7.0" fill="#ff8c05"/><rect x="176.8" y="26.4" width="7.0" height="7.0" fill="#f00000"/><rect x="182.6" y="26.4" width="41.8" height="7.0" fill="#ff8c05"/><rect x="124.6" y="32.2" width="7.0" height="7.0" fill="#f00000"/><rect x="130.4" y="32.2" width="18.6" height="7.0" fill="#ff8c05"/><rect x="147.8" y="32.2" width="41.8" height="7.0" fill="#f00000"/><rect x="188.4" y="32.2" width="7.0" height="7.0" fill="#ff8c05"/><rect x="194.2" y="32.2" width="30.2" height="7.0" fill="#f5f514"/><rect x="31.8" y="38.0" width="128.8" height="7.0" fill="#ff8c05"/><rect x="159.4" y="38.0" width="24.4" height="7.0" fill="#f00000"/><rect x="182.6" y="38.0" width="41.8" height="12.8" fill="#f5f514"/><rect x="31.8" y="43.8" width="88.2" height="7.0" fill="#ff8c05"/><rect x="31.8" y="72.8" width="88.2" height="7.0" fill="#ff8c05"/><rect x="118.8" y="43.8" width="7.0" height="7.0" fill="#f00000"/><rect x="124.6" y="43.8" width="59.2" height="7.0" fill="#ff8c05"/><rect x="101.4" y="49.6" width="18.6" height="7.0" fill="#f00000"/><rect x="118.8" y="49.6" width="59.2" height="7.0" fill="#ff8c05"/><rect x="176.8" y="49.6" width="47.6" height="7.0" fill="#f5f514"/><rect x="31.8" y="55.4" width="82.4" height="7.0" fill="#ff8c05"/><rect x="31.8" y="78.6" width="82.4" height="7.0" fill="#ff8c05"/><rect x="113.0" y="55.4" width="7.0" height="7.0" fill="#f5f514"/><rect x="118.8" y="55.4" width="12.8" height="12.8" fill="#ff8c05"/><rect x="130.4" y="55.4" width="94.0" height="12.8" fill="#f5f514"/><rect x="31.8" y="61.2" width="76.6" height="7.0" fill="#ff8c05"/><rect x="107.2" y="61.2" width="12.8" height="7.0" fill="#f5f514"/><rect x="101.4" y="67.0" width="7.0" height="7.0" fill="#f5f514"/><rect x="107.2" y="67.0" width="24.4" height="7.0" fill="#ff8c05"/><rect x="130.4" y="67.0" width="7.0" height="7.0" fill="#f5f514"/><rect x="136.2" y="67.0" width="18.6" height="7.0" fill="#f00000"/><rect x="153.6" y="67.0" width="70.8" height="7.0" fill="#f5f514"/><rect x="118.8" y="72.8" width="36.0" height="7.0" fill="#f00000"/><rect x="153.6" y="72.8" width="7.0" height="7.0" fill="#ff8c05"/><rect x="159.4" y="72.8" width="65.0" height="7.0" fill="#f5f514"/><rect x="113.0" y="78.6" width="24.4" height="7.0" fill="#f00000"/><rect x="136.2" y="78.6" width="88.2" height="7.0" fill="#ff8c05"/><rect x="136.2" y="96.0" width="88.2" height="7.0" fill="#ff8c05"/><rect x="31.8" y="84.4" width="36.0" height="18.6" fill="#ff8c05"/><rect x="66.6" y="84.4" width="30.2" height="7.0" fill="#f5f514"/><rect x="95.6" y="84.4" width="18.6" height="7.0" fill="#ff8c05"/><rect x="113.0" y="84.4" width="12.8" height="12.8" fill="#f00000"/><rect x="124.6" y="84.4" width="99.8" height="12.8" fill="#ff8c05"/><rect x="66.6" y="90.2" width="18.6" height="7.0" fill="#f5f514"/><rect x="84.0" y="90.2" width="7.0" height="7.0" fill="#f00000"/><rect x="89.8" y="90.2" width="24.4" height="7.0" fill="#ff8c05"/><rect x="66.6" y="96.0" width="24.4" height="7.0" fill="#f00000"/><rect x="89.8" y="96.0" width="12.8" height="12.8" fill="#ff8c05"/><rect x="101.4" y="96.0" width="36.0" height="7.0" fill="#f00000"/><rect x="31.8" y="101.8" width="59.2" height="12.8" fill="#f00000"/><rect x="101.4" y="101.8" width="41.8" height="7.0" fill="#f00000"/><rect x="142.0" y="101.8" width="82.4" height="7.0" fill="#ff8c05"/><rect x="2.8" y="107.6" width="18.6" height="18.6" fill="#00f500"/><rect x="20.2" y="107.6" width="12.8" height="7.0" fill="#ff8c05"/><rect x="89.8" y="107.6" width="18.6" height="18.6" fill="#ff8c05"/><rect x="107.2" y="107.6" width="41.8" height="18.6" fill="#f00000"/><rect x="147.8" y="107.6" width="76.6" height="18.6" fill="#ff8c05"/><rect x="20.2" y="113.4" width="24.4" height="12.8" fill="#ff8c05"/><rect x="20.2" y="148.2" width="24.4" height="7.0" fill="#ff8c05"/><rect x="43.4" y="113.4" width="47.6" height="12.8" fill="#f00000"/><rect x="2.8" y="125.0" width="53.4" height="7.0" fill="#ff8c05"/><rect x="55.0" y="125.0" width="36.0" height="7.0" fill="#f00000"/><rect x="89.8" y="125.0" width="134.6" height="7.0" fill="#ff8c05"/><rect x="2.8" y="130.8" width="65.0" height="7.0" fill="#ff8c05"/><rect x="66.6" y="130.8" width="30.2" height="7.0" fill="#f00000"/><rect x="95.6" y="130.8" width="128.8" height="7.0" fill="#ff8c05"/><rect x="2.8" y="136.6" width="70.8" height="7.0" fill="#ff8c05"/><rect x="72.4" y="136.6" width="41.8" height="7.0" fill="#f00000"/><rect x="113.0" y="136.6" width="111.4" height="7.0" fill="#ff8c05"/><rect x="2.8" y="142.4" width="18.6" height="18.6" fill="#f5f514"/><rect x="20.2" y="142.4" width="76.6" height="7.0" fill="#ff8c05"/><rect x="95.6" y="142.4" width="12.8" height="7.0" fill="#f00000"/><rect x="107.2" y="142.4" width="117.2" height="7.0" fill="#ff8c05"/><rect x="43.4" y="148.2" width="7.0" height="7.0" fill="#00f500"/><rect x="49.2" y="148.2" width="175.2" height="7.0" fill="#ff8c05"/><rect x="20.2" y="154.0" width="204.2" height="7.0" fill="#ff8c05"/><rect x="2.8" y="159.8" width="221.6" height="18.6" fill="#ff8c05"/></g><path d="M5.5,101.0 11.7,103.2 17.5,104.8 24.8,106.4 32.1,106.0 38.0,105.3 43.8,104.2 49.6,104.5 55.5,103.8 60.7,102.6 65.4,101.1 67.5,99.9 68.5,96.5 67.9,93.6 68.6,89.2 71.5,86.3 75.9,84.1 79.6,84.1 81.8,83.2 84.7,80.9 89.3,78.5 95.8,79.0 100.4,79.7 102.2,77.4 102.8,73.9 102.8,70.4 105.1,68.6 105.1,65.7 106.9,63.4 111.5,62.2 115.0,59.9 113.9,57.0 110.9,54.6 110.1,52.3 113.3,53.1 117.4,53.5 122.0,52.3 124.4,50.0 123.2,47.6 123.8,45.3 125.5,43.5 127.9,41.2 130.2,38.3 129.6,34.2 127.3,31.3 125.3,28.9 127.9,27.2 131.4,25.4 134.9,23.1 139.6,20.8 145.4,19.6 152.4,19.2 159.0,19.2 162.5,18.4 166.0,17.3 173.0,17.6 173.6,19.6 177.7,21.4 180.0,24.3 181.2,28.9 184.1,31.6 187.0,30.9 190.5,33.0 195.2,34.2 199.9,35.6 205.1,35.6 205.7,40.0 206.3,44.1 210.4,46.5 215.7,48.8 214.5,51.1 212.2,54.0 213.3,57.6 216.2,61.1 218.3,64.6 218.8,68.6 216.8,71.6 213.9,71.0 212.2,68.1 208.6,69.8 205.7,68.6 202.8,64.6 199.9,65.7 195.2,65.7 191.7,63.4 188.2,62.2 183.5,64.0 180.0,67.5 177.7,71.0 171.9,74.5 165.4,77.4 164.3,81.5 164.9,86.2 162.6,88.5 159.0,92.6 156.7,96.7 150.9,100.2 148.5,104.9 145.6,109.0 141.5,111.9 138.0,115.4 135.1,118.9 132.2,123.0 125.2,124.7 119.5,125.2 117.2,122.6 114.3,124.5 112.0,127.4 109.0,129.8 106.1,132.7 105.5,136.2 108.5,139.1 112.6,139.7 112.6,143.8 113.7,147.3 115.5,149.6 117.8,149.0 119.0,152.0 120.7,156.1 122.5,159.6 123.6,163.6 120.7,165.4 114.9,166.0 109.0,166.8 102.0,166.0 97.4,167.2 95.0,168.9 89.8,170.1 88.0,171.8 84.5,170.7 81.6,169.5 81.0,165.4 78.7,160.7 74.0,159.0 72.3,157.2 71.1,152.6 68.2,150.7 64.7,152.0 60.0,152.7 56.0,153.4 49.0,154.0 40.9,153.2 35.0,154.0 26.9,154.3 21.0,155.1 15.2,155.7 14.6,152.2 15.2,148.1 16.4,144.0 18.7,141.7 22.2,139.4 26.9,138.4 31.5,137.6 32.7,135.3 32.1,132.1 28.0,131.2 27.4,128.9 27.1,124.2 26.3,120.1 23.4,118.4 18.7,117.2 15.2,115.4 12.8,112.5 11.1,109.0 8.8,104.9Z" fill="none" stroke="#fff" stroke-opacity="0.35" stroke-width="0.8"/></g><text x="0.60" y="198.90" font-size="9.6" font-weight="bold" textLength="109.7" lengthAdjust="spacingAndGlyphs">Resiliency (2002 - 2010)</text><rect x="1.75" y="205.10" width="8.8" height="8.7" fill="#f00000"/><text x="14.60" y="213.10" font-size="8.3" textLength="38.6" lengthAdjust="spacingAndGlyphs" fill="#111">0.11 - 0.20</text><rect x="1.75" y="214.92" width="8.8" height="8.7" fill="#ff8c05"/><text x="14.60" y="222.92" font-size="8.3" textLength="38.6" lengthAdjust="spacingAndGlyphs" fill="#111">0.21 - 0.30</text><rect x="1.75" y="224.74" width="8.8" height="8.7" fill="#f5f514"/><text x="14.60" y="232.74" font-size="8.3" textLength="38.6" lengthAdjust="spacingAndGlyphs" fill="#111">0.31 - 0.40</text><rect x="1.75" y="234.56" width="8.8" height="8.7" fill="#96f50a"/><text x="14.60" y="242.56" font-size="8.3" textLength="38.6" lengthAdjust="spacingAndGlyphs" fill="#111">0.41 - 0.50</text><rect x="1.75" y="244.38" width="8.8" height="8.7" fill="#00f500"/><text x="14.60" y="252.38" font-size="8.3" textLength="38.6" lengthAdjust="spacingAndGlyphs" fill="#111">0.51 - 1.00</text><g transform="translate(231.0,176.4) scale(0.979)"><g clip-path="url(#pk)"><rect x="2.8" y="3.2" width="30.2" height="105.6" fill="#f5f514"/><rect x="31.8" y="3.2" width="47.6" height="105.6" fill="#00f500"/><rect x="78.2" y="3.2" width="146.2" height="12.8" fill="#ff8c05"/><rect x="78.2" y="14.8" width="24.4" height="18.6" fill="#ff8c05"/><rect x="78.2" y="49.6" width="24.4" height="24.4" fill="#ff8c05"/><rect x="101.4" y="14.8" width="123.0" height="18.6" fill="#f00000"/><rect x="78.2" y="32.2" width="47.6" height="12.8" fill="#ff8c05"/><rect x="124.6" y="32.2" width="7.0" height="7.0" fill="#f00000"/><rect x="130.4" y="32.2" width="12.8" height="7.0" fill="#ff8c05"/><rect x="142.0" y="32.2" width="7.0" height="7.0" fill="#f5f514"/><rect x="147.8" y="32.2" width="41.8" height="7.0" fill="#f00000"/><rect x="188.4" y="32.2" width="7.0" height="7.0" fill="#ff8c05"/><rect x="194.2" y="32.2" width="30.2" height="7.0" fill="#f5f514"/><rect x="124.6" y="38.0" width="12.8" height="7.0" fill="#f5f514"/><rect x="136.2" y="38.0" width="12.8" height="7.0" fill="#ff8c05"/><rect x="147.8" y="38.0" width="12.8" height="7.0" fill="#f5f514"/><rect x="159.4" y="38.0" width="24.4" height="7.0" fill="#f00000"/><rect x="182.6" y="38.0" width="41.8" height="7.0" fill="#f5f514"/><rect x="78.2" y="43.8" width="41.8" height="7.0" fill="#ff8c05"/><rect x="118.8" y="43.8" width="7.0" height="7.0" fill="#00f500"/><rect x="124.6" y="43.8" width="99.8" height="7.0" fill="#f5f514"/><rect x="101.4" y="49.6" width="18.6" height="7.0" fill="#00f500"/><rect x="118.8" y="49.6" width="105.6" height="7.0" fill="#f5f514"/><rect x="101.4" y="55.4" width="123.0" height="7.0" fill="#f5f514"/><rect x="101.4" y="61.2" width="18.6" height="7.0" fill="#f5f514"/><rect x="118.8" y="61.2" width="12.8" height="7.0" fill="#ff8c05"/><rect x="130.4" y="61.2" width="47.6" height="7.0" fill="#f5f514"/><rect x="176.8" y="61.2" width="24.4" height="7.0" fill="#ff8c05"/><rect x="200.0" y="61.2" width="24.4" height="7.0" fill="#f5f514"/><rect x="101.4" y="67.0" width="7.0" height="7.0" fill="#f5f514"/><rect x="107.2" y="67.0" width="24.4" height="7.0" fill="#ff8c05"/><rect x="130.4" y="67.0" width="7.0" height="7.0" fill="#f5f514"/><rect x="136.2" y="67.0" width="88.2" height="7.0" fill="#ff8c05"/><rect x="136.2" y="96.0" width="88.2" height="7.0" fill="#ff8c05"/><rect x="136.2" y="119.2" width="88.2" height="7.0" fill="#ff8c05"/><rect x="78.2" y="72.8" width="12.8" height="12.8" fill="#f5f514"/><rect x="78.2" y="90.2" width="12.8" height="12.8" fill="#f5f514"/><rect x="89.8" y="72.8" width="134.6" height="12.8" fill="#ff8c05"/><rect x="89.8" y="90.2" width="134.6" height="7.0" fill="#ff8c05"/><rect x="78.2" y="84.4" width="18.6" height="7.0" fill="#f5f514"/><rect x="95.6" y="84.4" width="65.0" height="7.0" fill="#ff8c05"/><rect x="159.4" y="84.4" width="7.0" height="7.0" fill="#f5f514"/><rect x="165.2" y="84.4" width="59.2" height="7.0" fill="#ff8c05"/><rect x="89.8" y="96.0" width="36.0" height="7.0" fill="#ff8c05"/><rect x="124.6" y="96.0" width="12.8" height="7.0" fill="#f00000"/><rect x="78.2" y="101.8" width="24.4" height="7.0" fill="#f5f514"/><rect x="101.4" y="101.8" width="12.8" height="18.6" fill="#ff8c05"/><rect x="113.0" y="101.8" width="30.2" height="18.6" fill="#f00000"/><rect x="142.0" y="101.8" width="82.4" height="18.6" fill="#ff8c05"/><rect x="2.8" y="107.6" width="18.6" height="18.6" fill="#f5f514"/><rect x="20.2" y="107.6" width="70.8" height="18.6" fill="#00f500"/><rect x="89.8" y="107.6" width="12.8" height="30.2" fill="#f5f514"/><rect x="101.4" y="119.2" width="7.0" height="7.0" fill="#ff8c05"/><rect x="107.2" y="119.2" width="30.2" height="7.0" fill="#f00000"/><rect x="2.8" y="125.0" width="88.2" height="18.6" fill="#00f500"/><rect x="101.4" y="125.0" width="123.0" height="12.8" fill="#ff8c05"/><rect x="89.8" y="136.6" width="7.0" height="7.0" fill="#ff8c05"/><rect x="95.6" y="136.6" width="18.6" height="7.0" fill="#f00000"/><rect x="113.0" y="136.6" width="111.4" height="7.0" fill="#ff8c05"/><rect x="2.8" y="142.4" width="82.4" height="7.0" fill="#00f500"/><rect x="2.8" y="154.0" width="82.4" height="18.6" fill="#00f500"/><rect x="84.0" y="142.4" width="12.8" height="7.0" fill="#ff8c05"/><rect x="95.6" y="142.4" width="12.8" height="7.0" fill="#f00000"/><rect x="107.2" y="142.4" width="117.2" height="7.0" fill="#ff8c05"/><rect x="2.8" y="148.2" width="41.8" height="7.0" fill="#00f500"/><rect x="43.4" y="148.2" width="7.0" height="7.0" fill="#f5f514"/><rect x="49.2" y="148.2" width="36.0" height="7.0" fill="#00f500"/><rect x="84.0" y="148.2" width="140.4" height="7.0" fill="#ff8c05"/><rect x="84.0" y="159.8" width="140.4" height="12.8" fill="#ff8c05"/><rect x="84.0" y="154.0" width="30.2" height="7.0" fill="#ff8c05"/><rect x="113.0" y="154.0" width="7.0" height="7.0" fill="#f00000"/><rect x="118.8" y="154.0" width="105.6" height="7.0" fill="#ff8c05"/><rect x="2.8" y="171.4" width="221.6" height="7.0" fill="#ff8c05"/></g><path d="M5.5,101.0 11.7,103.2 17.5,104.8 24.8,106.4 32.1,106.0 38.0,105.3 43.8,104.2 49.6,104.5 55.5,103.8 60.7,102.6 65.4,101.1 67.5,99.9 68.5,96.5 67.9,93.6 68.6,89.2 71.5,86.3 75.9,84.1 79.6,84.1 81.8,83.2 84.7,80.9 89.3,78.5 95.8,79.0 100.4,79.7 102.2,77.4 102.8,73.9 102.8,70.4 105.1,68.6 105.1,65.7 106.9,63.4 111.5,62.2 115.0,59.9 113.9,57.0 110.9,54.6 110.1,52.3 113.3,53.1 117.4,53.5 122.0,52.3 124.4,50.0 123.2,47.6 123.8,45.3 125.5,43.5 127.9,41.2 130.2,38.3 129.6,34.2 127.3,31.3 125.3,28.9 127.9,27.2 131.4,25.4 134.9,23.1 139.6,20.8 145.4,19.6 152.4,19.2 159.0,19.2 162.5,18.4 166.0,17.3 173.0,17.6 173.6,19.6 177.7,21.4 180.0,24.3 181.2,28.9 184.1,31.6 187.0,30.9 190.5,33.0 195.2,34.2 199.9,35.6 205.1,35.6 205.7,40.0 206.3,44.1 210.4,46.5 215.7,48.8 214.5,51.1 212.2,54.0 213.3,57.6 216.2,61.1 218.3,64.6 218.8,68.6 216.8,71.6 213.9,71.0 212.2,68.1 208.6,69.8 205.7,68.6 202.8,64.6 199.9,65.7 195.2,65.7 191.7,63.4 188.2,62.2 183.5,64.0 180.0,67.5 177.7,71.0 171.9,74.5 165.4,77.4 164.3,81.5 164.9,86.2 162.6,88.5 159.0,92.6 156.7,96.7 150.9,100.2 148.5,104.9 145.6,109.0 141.5,111.9 138.0,115.4 135.1,118.9 132.2,123.0 125.2,124.7 119.5,125.2 117.2,122.6 114.3,124.5 112.0,127.4 109.0,129.8 106.1,132.7 105.5,136.2 108.5,139.1 112.6,139.7 112.6,143.8 113.7,147.3 115.5,149.6 117.8,149.0 119.0,152.0 120.7,156.1 122.5,159.6 123.6,163.6 120.7,165.4 114.9,166.0 109.0,166.8 102.0,166.0 97.4,167.2 95.0,168.9 89.8,170.1 88.0,171.8 84.5,170.7 81.6,169.5 81.0,165.4 78.7,160.7 74.0,159.0 72.3,157.2 71.1,152.6 68.2,150.7 64.7,152.0 60.0,152.7 56.0,153.4 49.0,154.0 40.9,153.2 35.0,154.0 26.9,154.3 21.0,155.1 15.2,155.7 14.6,152.2 15.2,148.1 16.4,144.0 18.7,141.7 22.2,139.4 26.9,138.4 31.5,137.6 32.7,135.3 32.1,132.1 28.0,131.2 27.4,128.9 27.1,124.2 26.3,120.1 23.4,118.4 18.7,117.2 15.2,115.4 12.8,112.5 11.1,109.0 8.8,104.9Z" fill="none" stroke="#fff" stroke-opacity="0.35" stroke-width="0.8"/></g><text x="238.30" y="198.20" font-size="9.6" font-weight="bold" textLength="109.7" lengthAdjust="spacingAndGlyphs">Resiliency (2005 - 2013)</text><rect x="238.8" y="206.40" width="8.8" height="8.7" fill="#f00000"/><text x="251.70" y="214.40" font-size="8.3" textLength="38.6" lengthAdjust="spacingAndGlyphs" fill="#111">0.11 - 0.20</text><rect x="238.8" y="216.22" width="8.8" height="8.7" fill="#ff8c05"/><text x="251.70" y="224.22" font-size="8.3" textLength="38.6" lengthAdjust="spacingAndGlyphs" fill="#111">0.21 - 0.30</text><rect x="238.8" y="226.04" width="8.8" height="8.7" fill="#f5f514"/><text x="251.70" y="234.04" font-size="8.3" textLength="38.6" lengthAdjust="spacingAndGlyphs" fill="#111">0.31 - 0.40</text><rect x="238.8" y="235.86" width="8.8" height="8.7" fill="#96f50a"/><text x="251.70" y="243.86" font-size="8.3" textLength="38.6" lengthAdjust="spacingAndGlyphs" fill="#111">0.41 - 0.50</text><rect x="238.8" y="245.68" width="8.8" height="8.7" fill="#00f500"/><text x="251.70" y="253.68" font-size="8.3" textLength="38.6" lengthAdjust="spacingAndGlyphs" fill="#111">0.51 - 1.00</text><g transform="translate(462.0,176.5) scale(0.979)"><g clip-path="url(#pk)"><rect x="2.8" y="3.2" width="221.6" height="12.8" fill="#ff8c05"/><rect x="2.8" y="90.2" width="221.6" height="12.8" fill="#ff8c05"/><rect x="2.8" y="171.4" width="221.6" height="7.0" fill="#ff8c05"/><rect x="2.8" y="14.8" width="99.8" height="18.6" fill="#ff8c05"/><rect x="2.8" y="49.6" width="99.8" height="24.4" fill="#ff8c05"/><rect x="101.4" y="14.8" width="123.0" height="18.6" fill="#f00000"/><rect x="2.8" y="32.2" width="123.0" height="12.8" fill="#ff8c05"/><rect x="124.6" y="32.2" width="7.0" height="7.0" fill="#f00000"/><rect x="130.4" y="32.2" width="12.8" height="7.0" fill="#ff8c05"/><rect x="142.0" y="32.2" width="7.0" height="7.0" fill="#f5f514"/><rect x="147.8" y="32.2" width="41.8" height="7.0" fill="#f00000"/><rect x="188.4" y="32.2" width="7.0" height="7.0" fill="#ff8c05"/><rect x="194.2" y="32.2" width="30.2" height="7.0" fill="#f5f514"/><rect x="124.6" y="38.0" width="12.8" height="7.0" fill="#f5f514"/><rect x="136.2" y="38.0" width="12.8" height="7.0" fill="#ff8c05"/><rect x="147.8" y="38.0" width="12.8" height="7.0" fill="#f5f514"/><rect x="159.4" y="38.0" width="24.4" height="7.0" fill="#f00000"/><rect x="182.6" y="38.0" width="41.8" height="7.0" fill="#f5f514"/><rect x="2.8" y="43.8" width="117.2" height="7.0" fill="#ff8c05"/><rect x="118.8" y="43.8" width="7.0" height="7.0" fill="#00f500"/><rect x="124.6" y="43.8" width="99.8" height="7.0" fill="#f5f514"/><rect x="101.4" y="49.6" width="18.6" height="7.0" fill="#00f500"/><rect x="118.8" y="49.6" width="105.6" height="7.0" fill="#f5f514"/><rect x="101.4" y="55.4" width="111.4" height="7.0" fill="#f5f514"/><rect x="211.6" y="55.4" width="12.8" height="12.8" fill="#ff8c05"/><rect x="101.4" y="61.2" width="18.6" height="7.0" fill="#f5f514"/><rect x="118.8" y="61.2" width="12.8" height="7.0" fill="#ff8c05"/><rect x="130.4" y="61.2" width="47.6" height="7.0" fill="#f5f514"/><rect x="176.8" y="61.2" width="24.4" height="7.0" fill="#ff8c05"/><rect x="200.0" y="61.2" width="12.8" height="7.0" fill="#f5f514"/><rect x="101.4" y="67.0" width="7.0" height="7.0" fill="#f5f514"/><rect x="107.2" y="67.0" width="59.2" height="7.0" fill="#ff8c05"/><rect x="165.2" y="67.0" width="7.0" height="7.0" fill="#f5f514"/><rect x="171.0" y="67.0" width="53.4" height="7.0" fill="#ff8c05"/><rect x="2.8" y="72.8" width="157.8" height="7.0" fill="#ff8c05"/><rect x="159.4" y="72.8" width="7.0" height="7.0" fill="#f5f514"/><rect x="159.4" y="84.4" width="7.0" height="7.0" fill="#f5f514"/><rect x="165.2" y="72.8" width="59.2" height="7.0" fill="#ff8c05"/><rect x="165.2" y="84.4" width="59.2" height="7.0" fill="#ff8c05"/><rect x="2.8" y="78.6" width="76.6" height="12.8" fill="#ff8c05"/><rect x="78.2" y="78.6" width="12.8" height="7.0" fill="#f5f514"/><rect x="89.8" y="78.6" width="134.6" height="7.0" fill="#ff8c05"/><rect x="78.2" y="84.4" width="18.6" height="7.0" fill="#f5f514"/><rect x="95.6" y="84.4" width="65.0" height="7.0" fill="#ff8c05"/><rect x="2.8" y="101.8" width="88.2" height="36.0" fill="#ff8c05"/><rect x="89.8" y="101.8" width="12.8" height="36.0" fill="#f5f514"/><rect x="101.4" y="101.8" width="123.0" height="36.0" fill="#ff8c05"/><rect x="2.8" y="136.6" width="94.0" height="7.0" fill="#ff8c05"/><rect x="95.6" y="136.6" width="12.8" height="18.6" fill="#f00000"/><rect x="107.2" y="136.6" width="117.2" height="18.6" fill="#ff8c05"/><rect x="2.8" y="142.4" width="59.2" height="7.0" fill="#ff8c05"/><rect x="60.8" y="142.4" width="24.4" height="7.0" fill="#00f500"/><rect x="84.0" y="142.4" width="12.8" height="12.8" fill="#ff8c05"/><rect x="2.8" y="148.2" width="47.6" height="24.4" fill="#ff8c05"/><rect x="49.2" y="148.2" width="36.0" height="7.0" fill="#00f500"/><rect x="49.2" y="154.0" width="47.6" height="18.6" fill="#00f500"/><rect x="95.6" y="154.0" width="30.2" height="7.0" fill="#f00000"/><rect x="124.6" y="154.0" width="99.8" height="7.0" fill="#ff8c05"/><rect x="95.6" y="159.8" width="24.4" height="7.0" fill="#f00000"/><rect x="118.8" y="159.8" width="105.6" height="7.0" fill="#ff8c05"/><rect x="95.6" y="165.6" width="128.8" height="7.0" fill="#ff8c05"/></g><path d="M5.5,101.0 11.7,103.2 17.5,104.8 24.8,106.4 32.1,106.0 38.0,105.3 43.8,104.2 49.6,104.5 55.5,103.8 60.7,102.6 65.4,101.1 67.5,99.9 68.5,96.5 67.9,93.6 68.6,89.2 71.5,86.3 75.9,84.1 79.6,84.1 81.8,83.2 84.7,80.9 89.3,78.5 95.8,79.0 100.4,79.7 102.2,77.4 102.8,73.9 102.8,70.4 105.1,68.6 105.1,65.7 106.9,63.4 111.5,62.2 115.0,59.9 113.9,57.0 110.9,54.6 110.1,52.3 113.3,53.1 117.4,53.5 122.0,52.3 124.4,50.0 123.2,47.6 123.8,45.3 125.5,43.5 127.9,41.2 130.2,38.3 129.6,34.2 127.3,31.3 125.3,28.9 127.9,27.2 131.4,25.4 134.9,23.1 139.6,20.8 145.4,19.6 152.4,19.2 159.0,19.2 162.5,18.4 166.0,17.3 173.0,17.6 173.6,19.6 177.7,21.4 180.0,24.3 181.2,28.9 184.1,31.6 187.0,30.9 190.5,33.0 195.2,34.2 199.9,35.6 205.1,35.6 205.7,40.0 206.3,44.1 210.4,46.5 215.7,48.8 214.5,51.1 212.2,54.0 213.3,57.6 216.2,61.1 218.3,64.6 218.8,68.6 216.8,71.6 213.9,71.0 212.2,68.1 208.6,69.8 205.7,68.6 202.8,64.6 199.9,65.7 195.2,65.7 191.7,63.4 188.2,62.2 183.5,64.0 180.0,67.5 177.7,71.0 171.9,74.5 165.4,77.4 164.3,81.5 164.9,86.2 162.6,88.5 159.0,92.6 156.7,96.7 150.9,100.2 148.5,104.9 145.6,109.0 141.5,111.9 138.0,115.4 135.1,118.9 132.2,123.0 125.2,124.7 119.5,125.2 117.2,122.6 114.3,124.5 112.0,127.4 109.0,129.8 106.1,132.7 105.5,136.2 108.5,139.1 112.6,139.7 112.6,143.8 113.7,147.3 115.5,149.6 117.8,149.0 119.0,152.0 120.7,156.1 122.5,159.6 123.6,163.6 120.7,165.4 114.9,166.0 109.0,166.8 102.0,166.0 97.4,167.2 95.0,168.9 89.8,170.1 88.0,171.8 84.5,170.7 81.6,169.5 81.0,165.4 78.7,160.7 74.0,159.0 72.3,157.2 71.1,152.6 68.2,150.7 64.7,152.0 60.0,152.7 56.0,153.4 49.0,154.0 40.9,153.2 35.0,154.0 26.9,154.3 21.0,155.1 15.2,155.7 14.6,152.2 15.2,148.1 16.4,144.0 18.7,141.7 22.2,139.4 26.9,138.4 31.5,137.6 32.7,135.3 32.1,132.1 28.0,131.2 27.4,128.9 27.1,124.2 26.3,120.1 23.4,118.4 18.7,117.2 15.2,115.4 12.8,112.5 11.1,109.0 8.8,104.9Z" fill="none" stroke="#fff" stroke-opacity="0.35" stroke-width="0.8"/></g><text x="465.30" y="202.00" font-size="9.6" font-weight="bold" textLength="109.7" lengthAdjust="spacingAndGlyphs">Resiliency (2008 - 2016)</text><rect x="466.3" y="207.20" width="8.8" height="8.7" fill="#f00000"/><text x="479.50" y="215.20" font-size="8.3" textLength="38.6" lengthAdjust="spacingAndGlyphs" fill="#111">0.11 - 0.20</text><rect x="466.3" y="217.02" width="8.8" height="8.7" fill="#ff8c05"/><text x="479.50" y="225.02" font-size="8.3" textLength="38.6" lengthAdjust="spacingAndGlyphs" fill="#111">0.21 - 0.30</text><rect x="466.3" y="226.84" width="8.8" height="8.7" fill="#f5f514"/><text x="479.50" y="234.84" font-size="8.3" textLength="38.6" lengthAdjust="spacingAndGlyphs" fill="#111">0.31 - 0.40</text><rect x="466.3" y="236.66" width="8.8" height="8.7" fill="#96f50a"/><text x="479.50" y="244.66" font-size="8.3" textLength="38.6" lengthAdjust="spacingAndGlyphs" fill="#111">0.41 - 0.50</text><rect x="466.3" y="246.48" width="8.8" height="8.7" fill="#00f500"/><text x="479.50" y="254.48" font-size="8.3" textLength="38.6" lengthAdjust="spacingAndGlyphs" fill="#111">0.51 - 1.00</text><g transform="translate(0,351.7) scale(1)"><g clip-path="url(#pk)"><rect x="2.8" y="3.2" width="30.2" height="105.6" fill="#00f500"/><rect x="31.8" y="3.2" width="18.6" height="99.8" fill="#96f50a"/><rect x="49.2" y="3.2" width="175.2" height="12.8" fill="#f5f514"/><rect x="49.2" y="14.8" width="76.6" height="18.6" fill="#f5f514"/><rect x="49.2" y="84.4" width="76.6" height="7.0" fill="#f5f514"/><rect x="124.6" y="14.8" width="7.0" height="18.6" fill="#ff8c05"/><rect x="130.4" y="14.8" width="7.0" height="18.6" fill="#f5f514"/><rect x="136.2" y="14.8" width="53.4" height="7.0" fill="#ff8c05"/><rect x="188.4" y="14.8" width="36.0" height="18.6" fill="#f5f514"/><rect x="136.2" y="20.6" width="24.4" height="12.8" fill="#ff8c05"/><rect x="159.4" y="20.6" width="12.8" height="7.0" fill="#f00000"/><rect x="171.0" y="20.6" width="18.6" height="7.0" fill="#ff8c05"/><rect x="159.4" y="26.4" width="18.6" height="7.0" fill="#f00000"/><rect x="176.8" y="26.4" width="12.8" height="7.0" fill="#ff8c05"/><rect x="49.2" y="32.2" width="99.8" height="12.8" fill="#f5f514"/><rect x="147.8" y="32.2" width="47.6" height="7.0" fill="#ff8c05"/><rect x="194.2" y="32.2" width="30.2" height="7.0" fill="#f5f514"/><rect x="147.8" y="38.0" width="12.8" height="7.0" fill="#ff8c05"/><rect x="159.4" y="38.0" width="12.8" height="7.0" fill="#f5f514"/><rect x="171.0" y="38.0" width="12.8" height="7.0" fill="#ff8c05"/><rect x="182.6" y="38.0" width="41.8" height="7.0" fill="#f5f514"/><rect x="49.2" y="43.8" width="82.4" height="12.8" fill="#f5f514"/><rect x="130.4" y="43.8" width="53.4" height="7.0" fill="#ff8c05"/><rect x="182.6" y="43.8" width="12.8" height="7.0" fill="#f5f514"/><rect x="194.2" y="43.8" width="30.2" height="7.0" fill="#96f50a"/><rect x="130.4" y="49.6" width="18.6" height="7.0" fill="#ff8c05"/><rect x="130.4" y="107.6" width="18.6" height="7.0" fill="#ff8c05"/><rect x="147.8" y="49.6" width="7.0" height="7.0" fill="#f5f514"/><rect x="153.6" y="49.6" width="24.4" height="7.0" fill="#ff8c05"/><rect x="176.8" y="49.6" width="47.6" height="7.0" fill="#96f50a"/><rect x="49.2" y="55.4" width="59.2" height="7.0" fill="#f5f514"/><rect x="49.2" y="119.2" width="59.2" height="7.0" fill="#f5f514"/><rect x="107.2" y="55.4" width="12.8" height="12.8" fill="#00f500"/><rect x="118.8" y="55.4" width="41.8" height="7.0" fill="#f5f514"/><rect x="159.4" y="55.4" width="7.0" height="7.0" fill="#ff8c05"/><rect x="165.2" y="55.4" width="36.0" height="7.0" fill="#96f50a"/><rect x="200.0" y="55.4" width="24.4" height="12.8" fill="#00f500"/><rect x="49.2" y="61.2" width="53.4" height="12.8" fill="#f5f514"/><rect x="49.2" y="107.6" width="53.4" height="12.8" fill="#f5f514"/><rect x="101.4" y="61.2" width="7.0" height="12.8" fill="#96f50a"/><rect x="101.4" y="154.0" width="7.0" height="7.0" fill="#96f50a"/><rect x="118.8" y="61.2" width="36.0" height="7.0" fill="#f5f514"/><rect x="153.6" y="61.2" width="47.6" height="7.0" fill="#96f50a"/><rect x="107.2" y="67.0" width="47.6" height="7.0" fill="#f5f514"/><rect x="153.6" y="67.0" width="53.4" height="7.0" fill="#96f50a"/><rect x="205.8" y="67.0" width="18.6" height="7.0" fill="#00f500"/><rect x="49.2" y="72.8" width="111.4" height="7.0" fill="#f5f514"/><rect x="159.4" y="72.8" width="12.8" height="7.0" fill="#96f50a"/><rect x="171.0" y="72.8" width="53.4" height="7.0" fill="#f5f514"/><rect x="49.2" y="78.6" width="41.8" height="7.0" fill="#f5f514"/><rect x="89.8" y="78.6" width="18.6" height="7.0" fill="#ff8c05"/><rect x="107.2" y="78.6" width="30.2" height="7.0" fill="#f5f514"/><rect x="136.2" y="78.6" width="12.8" height="7.0" fill="#ff8c05"/><rect x="136.2" y="96.0" width="12.8" height="7.0" fill="#ff8c05"/><rect x="147.8" y="78.6" width="76.6" height="7.0" fill="#f5f514"/><rect x="147.8" y="90.2" width="76.6" height="12.8" fill="#f5f514"/><rect x="147.8" y="107.6" width="76.6" height="7.0" fill="#f5f514"/><rect x="124.6" y="84.4" width="30.2" height="7.0" fill="#ff8c05"/><rect x="153.6" y="84.4" width="7.0" height="7.0" fill="#f5f514"/><rect x="159.4" y="84.4" width="7.0" height="7.0" fill="#96f50a"/><rect x="165.2" y="84.4" width="59.2" height="7.0" fill="#f5f514"/><rect x="49.2" y="90.2" width="36.0" height="7.0" fill="#f5f514"/><rect x="84.0" y="90.2" width="7.0" height="7.0" fill="#ff8c05"/><rect x="89.8" y="90.2" width="36.0" height="12.8" fill="#f5f514"/><rect x="124.6" y="90.2" width="24.4" height="7.0" fill="#ff8c05"/><rect x="49.2" y="96.0" width="30.2" height="7.0" fill="#f5f514"/><rect x="78.2" y="96.0" width="12.8" height="12.8" fill="#ff8c05"/><rect x="124.6" y="96.0" width="12.8" height="7.0" fill="#f00000"/><rect x="31.8" y="101.8" width="24.4" height="7.0" fill="#96f50a"/><rect x="55.0" y="101.8" width="24.4" height="7.0" fill="#f5f514"/><rect x="89.8" y="101.8" width="24.4" height="7.0" fill="#f5f514"/><rect x="113.0" y="101.8" width="24.4" height="7.0" fill="#f00000"/><rect x="113.0" y="113.4" width="24.4" height="7.0" fill="#f00000"/><rect x="136.2" y="101.8" width="7.0" height="7.0" fill="#ff8c05"/><rect x="142.0" y="101.8" width="82.4" height="7.0" fill="#f5f514"/><rect x="2.8" y="107.6" width="18.6" height="18.6" fill="#00f500"/><rect x="2.8" y="142.4" width="18.6" height="18.6" fill="#00f500"/><rect x="20.2" y="107.6" width="30.2" height="18.6" fill="#96f50a"/><rect x="101.4" y="107.6" width="12.8" height="12.8" fill="#ff8c05"/><rect x="113.0" y="107.6" width="18.6" height="7.0" fill="#f00000"/><rect x="136.2" y="113.4" width="88.2" height="12.8" fill="#f5f514"/><rect x="107.2" y="119.2" width="30.2" height="7.0" fill="#f00000"/><rect x="2.8" y="125.0" width="53.4" height="7.0" fill="#96f50a"/><rect x="55.0" y="125.0" width="169.4" height="7.0" fill="#f5f514"/><rect x="2.8" y="130.8" width="65.0" height="7.0" fill="#96f50a"/><rect x="66.6" y="130.8" width="157.8" height="7.0" fill="#f5f514"/><rect x="2.8" y="136.6" width="105.6" height="7.0" fill="#96f50a"/><rect x="107.2" y="136.6" width="7.0" height="7.0" fill="#ff8c05"/><rect x="113.0" y="136.6" width="111.4" height="7.0" fill="#f5f514"/><rect x="20.2" y="142.4" width="88.2" height="7.0" fill="#96f50a"/><rect x="107.2" y="142.4" width="24.4" height="18.6" fill="#f00000"/><rect x="130.4" y="142.4" width="94.0" height="30.2" fill="#f5f514"/><rect x="20.2" y="148.2" width="24.4" height="7.0" fill="#96f50a"/><rect x="43.4" y="148.2" width="7.0" height="7.0" fill="#00f500"/><rect x="49.2" y="148.2" width="59.2" height="7.0" fill="#96f50a"/><rect x="20.2" y="154.0" width="65.0" height="7.0" fill="#96f50a"/><rect x="84.0" y="154.0" width="18.6" height="7.0" fill="#f5f514"/><rect x="2.8" y="159.8" width="76.6" height="12.8" fill="#96f50a"/><rect x="78.2" y="159.8" width="18.6" height="7.0" fill="#f5f514"/><rect x="95.6" y="159.8" width="36.0" height="7.0" fill="#f00000"/><rect x="78.2" y="165.6" width="7.0" height="7.0" fill="#f5f514"/><rect x="84.0" y="165.6" width="47.6" height="7.0" fill="#f00000"/><rect x="2.8" y="171.4" width="221.6" height="7.0" fill="#f5f514"/></g><path d="M5.5,101.0 11.7,103.2 17.5,104.8 24.8,106.4 32.1,106.0 38.0,105.3 43.8,104.2 49.6,104.5 55.5,103.8 60.7,102.6 65.4,101.1 67.5,99.9 68.5,96.5 67.9,93.6 68.6,89.2 71.5,86.3 75.9,84.1 79.6,84.1 81.8,83.2 84.7,80.9 89.3,78.5 95.8,79.0 100.4,79.7 102.2,77.4 102.8,73.9 102.8,70.4 105.1,68.6 105.1,65.7 106.9,63.4 111.5,62.2 115.0,59.9 113.9,57.0 110.9,54.6 110.1,52.3 113.3,53.1 117.4,53.5 122.0,52.3 124.4,50.0 123.2,47.6 123.8,45.3 125.5,43.5 127.9,41.2 130.2,38.3 129.6,34.2 127.3,31.3 125.3,28.9 127.9,27.2 131.4,25.4 134.9,23.1 139.6,20.8 145.4,19.6 152.4,19.2 159.0,19.2 162.5,18.4 166.0,17.3 173.0,17.6 173.6,19.6 177.7,21.4 180.0,24.3 181.2,28.9 184.1,31.6 187.0,30.9 190.5,33.0 195.2,34.2 199.9,35.6 205.1,35.6 205.7,40.0 206.3,44.1 210.4,46.5 215.7,48.8 214.5,51.1 212.2,54.0 213.3,57.6 216.2,61.1 218.3,64.6 218.8,68.6 216.8,71.6 213.9,71.0 212.2,68.1 208.6,69.8 205.7,68.6 202.8,64.6 199.9,65.7 195.2,65.7 191.7,63.4 188.2,62.2 183.5,64.0 180.0,67.5 177.7,71.0 171.9,74.5 165.4,77.4 164.3,81.5 164.9,86.2 162.6,88.5 159.0,92.6 156.7,96.7 150.9,100.2 148.5,104.9 145.6,109.0 141.5,111.9 138.0,115.4 135.1,118.9 132.2,123.0 125.2,124.7 119.5,125.2 117.2,122.6 114.3,124.5 112.0,127.4 109.0,129.8 106.1,132.7 105.5,136.2 108.5,139.1 112.6,139.7 112.6,143.8 113.7,147.3 115.5,149.6 117.8,149.0 119.0,152.0 120.7,156.1 122.5,159.6 123.6,163.6 120.7,165.4 114.9,166.0 109.0,166.8 102.0,166.0 97.4,167.2 95.0,168.9 89.8,170.1 88.0,171.8 84.5,170.7 81.6,169.5 81.0,165.4 78.7,160.7 74.0,159.0 72.3,157.2 71.1,152.6 68.2,150.7 64.7,152.0 60.0,152.7 56.0,153.4 49.0,154.0 40.9,153.2 35.0,154.0 26.9,154.3 21.0,155.1 15.2,155.7 14.6,152.2 15.2,148.1 16.4,144.0 18.7,141.7 22.2,139.4 26.9,138.4 31.5,137.6 32.7,135.3 32.1,132.1 28.0,131.2 27.4,128.9 27.1,124.2 26.3,120.1 23.4,118.4 18.7,117.2 15.2,115.4 12.8,112.5 11.1,109.0 8.8,104.9Z" fill="none" stroke="#fff" stroke-opacity="0.35" stroke-width="0.8"/></g><text x="0.95" y="374.90" font-size="9.6" font-weight="bold" textLength="119.0" lengthAdjust="spacingAndGlyphs">Vulnerability (2002 - 2010)</text><rect x="3.9" y="381.50" width="8.8" height="8.7" fill="#f00000"/><text x="16.70" y="389.50" font-size="8.3" textLength="38.6" lengthAdjust="spacingAndGlyphs" fill="#111">0.21 - 0.45</text><rect x="3.9" y="391.32" width="8.8" height="8.7" fill="#ff8c05"/><text x="16.70" y="399.32" font-size="8.3" textLength="38.6" lengthAdjust="spacingAndGlyphs" fill="#111">0.16 - 0.20</text><rect x="3.9" y="401.14" width="8.8" height="8.7" fill="#f5f514"/><text x="16.70" y="409.14" font-size="8.3" textLength="38.6" lengthAdjust="spacingAndGlyphs" fill="#111">0.11 - 0.15</text><rect x="3.9" y="410.96" width="8.8" height="8.7" fill="#96f50a"/><text x="16.70" y="418.96" font-size="8.3" textLength="38.6" lengthAdjust="spacingAndGlyphs" fill="#111">0.06 - 0.10</text><rect x="3.9" y="420.78" width="8.8" height="8.7" fill="#00f500"/><text x="16.70" y="428.78" font-size="8.3" textLength="38.6" lengthAdjust="spacingAndGlyphs" fill="#111">0.00 - 0.05</text><g transform="translate(231.0,352.3) scale(0.979)"><g clip-path="url(#pk)"><rect x="2.8" y="3.2" width="221.6" height="12.8" fill="#00f500"/><rect x="2.8" y="171.4" width="221.6" height="7.0" fill="#00f500"/><rect x="2.8" y="14.8" width="99.8" height="12.8" fill="#00f500"/><rect x="2.8" y="61.2" width="99.8" height="18.6" fill="#00f500"/><rect x="2.8" y="113.4" width="99.8" height="12.8" fill="#00f500"/><rect x="101.4" y="14.8" width="88.2" height="7.0" fill="#f5f514"/><rect x="188.4" y="14.8" width="36.0" height="18.6" fill="#00f500"/><rect x="101.4" y="20.6" width="70.8" height="7.0" fill="#f5f514"/><rect x="171.0" y="20.6" width="18.6" height="7.0" fill="#96f50a"/><rect x="2.8" y="26.4" width="123.0" height="12.8" fill="#00f500"/><rect x="124.6" y="26.4" width="53.4" height="7.0" fill="#f5f514"/><rect x="176.8" y="26.4" width="12.8" height="7.0" fill="#96f50a"/><rect x="124.6" y="32.2" width="7.0" height="7.0" fill="#f5f514"/><rect x="130.4" y="32.2" width="18.6" height="7.0" fill="#96f50a"/><rect x="147.8" y="32.2" width="12.8" height="7.0" fill="#f5f514"/><rect x="147.8" y="96.0" width="12.8" height="7.0" fill="#f5f514"/><rect x="159.4" y="32.2" width="65.0" height="7.0" fill="#96f50a"/><rect x="2.8" y="38.0" width="134.6" height="7.0" fill="#00f500"/><rect x="136.2" y="38.0" width="88.2" height="7.0" fill="#96f50a"/><rect x="2.8" y="43.8" width="128.8" height="7.0" fill="#00f500"/><rect x="130.4" y="43.8" width="12.8" height="7.0" fill="#f5f514"/><rect x="142.0" y="43.8" width="59.2" height="7.0" fill="#96f50a"/><rect x="200.0" y="43.8" width="18.6" height="7.0" fill="#00f500"/><rect x="217.4" y="43.8" width="7.0" height="7.0" fill="#96f50a"/><rect x="2.8" y="49.6" width="117.2" height="12.8" fill="#00f500"/><rect x="118.8" y="49.6" width="12.8" height="12.8" fill="#96f50a"/><rect x="118.8" y="159.8" width="12.8" height="7.0" fill="#96f50a"/><rect x="130.4" y="49.6" width="24.4" height="18.6" fill="#f5f514"/><rect x="153.6" y="49.6" width="53.4" height="7.0" fill="#96f50a"/><rect x="205.8" y="49.6" width="7.0" height="7.0" fill="#00f500"/><rect x="211.6" y="49.6" width="12.8" height="7.0" fill="#96f50a"/><rect x="153.6" y="55.4" width="7.0" height="7.0" fill="#ff8c05"/><rect x="159.4" y="55.4" width="7.0" height="7.0" fill="#96f50a"/><rect x="165.2" y="55.4" width="12.8" height="12.8" fill="#f5f514"/><rect x="176.8" y="55.4" width="47.6" height="7.0" fill="#96f50a"/><rect x="101.4" y="61.2" width="7.0" height="12.8" fill="#96f50a"/><rect x="101.4" y="154.0" width="7.0" height="7.0" fill="#96f50a"/><rect x="107.2" y="61.2" width="12.8" height="7.0" fill="#00f500"/><rect x="118.8" y="61.2" width="12.8" height="7.0" fill="#ff8c05"/><rect x="118.8" y="154.0" width="12.8" height="7.0" fill="#ff8c05"/><rect x="153.6" y="61.2" width="12.8" height="7.0" fill="#ff8c05"/><rect x="176.8" y="61.2" width="12.8" height="7.0" fill="#ff8c05"/><rect x="188.4" y="61.2" width="12.8" height="7.0" fill="#f5f514"/><rect x="200.0" y="61.2" width="24.4" height="7.0" fill="#96f50a"/><rect x="107.2" y="67.0" width="24.4" height="7.0" fill="#ff8c05"/><rect x="107.2" y="136.6" width="24.4" height="18.6" fill="#ff8c05"/><rect x="130.4" y="67.0" width="7.0" height="7.0" fill="#f5f514"/><rect x="136.2" y="67.0" width="88.2" height="7.0" fill="#ff8c05"/><rect x="101.4" y="72.8" width="53.4" height="7.0" fill="#ff8c05"/><rect x="153.6" y="72.8" width="7.0" height="7.0" fill="#f00000"/><rect x="159.4" y="72.8" width="24.4" height="7.0" fill="#ff8c05"/><rect x="182.6" y="72.8" width="41.8" height="7.0" fill="#00f500"/><rect x="2.8" y="78.6" width="82.4" height="7.0" fill="#00f500"/><rect x="2.8" y="130.8" width="82.4" height="7.0" fill="#00f500"/><rect x="2.8" y="154.0" width="82.4" height="7.0" fill="#00f500"/><rect x="84.0" y="78.6" width="7.0" height="7.0" fill="#96f50a"/><rect x="84.0" y="154.0" width="7.0" height="7.0" fill="#96f50a"/><rect x="89.8" y="78.6" width="18.6" height="7.0" fill="#f5f514"/><rect x="89.8" y="90.2" width="18.6" height="7.0" fill="#f5f514"/><rect x="107.2" y="78.6" width="30.2" height="7.0" fill="#ff8c05"/><rect x="136.2" y="78.6" width="36.0" height="7.0" fill="#f00000"/><rect x="171.0" y="78.6" width="53.4" height="7.0" fill="#00f500"/><rect x="2.8" y="84.4" width="76.6" height="7.0" fill="#00f500"/><rect x="2.8" y="159.8" width="76.6" height="12.8" fill="#00f500"/><rect x="78.2" y="84.4" width="18.6" height="7.0" fill="#96f50a"/><rect x="78.2" y="159.8" width="18.6" height="12.8" fill="#96f50a"/><rect x="95.6" y="84.4" width="7.0" height="7.0" fill="#f5f514"/><rect x="95.6" y="154.0" width="7.0" height="7.0" fill="#f5f514"/><rect x="101.4" y="84.4" width="24.4" height="7.0" fill="#ff8c05"/><rect x="101.4" y="96.0" width="24.4" height="7.0" fill="#ff8c05"/><rect x="124.6" y="84.4" width="30.2" height="7.0" fill="#f00000"/><rect x="153.6" y="84.4" width="7.0" height="7.0" fill="#f5f514"/><rect x="159.4" y="84.4" width="7.0" height="7.0" fill="#ff8c05"/><rect x="165.2" y="84.4" width="59.2" height="12.8" fill="#00f500"/><rect x="2.8" y="90.2" width="88.2" height="24.4" fill="#00f500"/><rect x="107.2" y="90.2" width="18.6" height="7.0" fill="#ff8c05"/><rect x="124.6" y="90.2" width="12.8" height="12.8" fill="#f00000"/><rect x="136.2" y="90.2" width="12.8" height="12.8" fill="#ff8c05"/><rect x="147.8" y="90.2" width="18.6" height="7.0" fill="#f5f514"/><rect x="89.8" y="96.0" width="12.8" height="7.0" fill="#f5f514"/><rect x="159.4" y="96.0" width="65.0" height="7.0" fill="#00f500"/><rect x="89.8" y="101.8" width="12.8" height="12.8" fill="#96f50a"/><rect x="101.4" y="101.8" width="12.8" height="18.6" fill="#ff8c05"/><rect x="113.0" y="101.8" width="24.4" height="7.0" fill="#f00000"/><rect x="113.0" y="125.0" width="24.4" height="7.0" fill="#f00000"/><rect x="136.2" y="101.8" width="7.0" height="7.0" fill="#ff8c05"/><rect x="142.0" y="101.8" width="12.8" height="7.0" fill="#f5f514"/><rect x="153.6" y="101.8" width="70.8" height="18.6" fill="#00f500"/><rect x="113.0" y="107.6" width="18.6" height="7.0" fill="#f00000"/><rect x="130.4" y="107.6" width="24.4" height="7.0" fill="#ff8c05"/><rect x="113.0" y="113.4" width="41.8" height="7.0" fill="#f00000"/><rect x="101.4" y="119.2" width="7.0" height="7.0" fill="#f5f514"/><rect x="101.4" y="130.8" width="7.0" height="7.0" fill="#f5f514"/><rect x="107.2" y="119.2" width="41.8" height="7.0" fill="#f00000"/><rect x="147.8" y="119.2" width="76.6" height="7.0" fill="#00f500"/><rect x="2.8" y="125.0" width="94.0" height="7.0" fill="#00f500"/><rect x="2.8" y="136.6" width="94.0" height="18.6" fill="#00f500"/><rect x="95.6" y="125.0" width="18.6" height="7.0" fill="#f5f514"/><rect x="136.2" y="125.0" width="88.2" height="7.0" fill="#00f500"/><rect x="84.0" y="130.8" width="12.8" height="7.0" fill="#96f50a"/><rect x="95.6" y="130.8" width="7.0" height="7.0" fill="#00f500"/><rect x="107.2" y="130.8" width="117.2" height="7.0" fill="#00f500"/><rect x="95.6" y="136.6" width="12.8" height="18.6" fill="#96f50a"/><rect x="130.4" y="136.6" width="94.0" height="30.2" fill="#00f500"/><rect x="89.8" y="154.0" width="7.0" height="7.0" fill="#00f500"/><rect x="107.2" y="154.0" width="12.8" height="7.0" fill="#f5f514"/><rect x="95.6" y="159.8" width="24.4" height="12.8" fill="#f5f514"/><rect x="118.8" y="165.6" width="105.6" height="7.0" fill="#00f500"/></g><path d="M5.5,101.0 11.7,103.2 17.5,104.8 24.8,106.4 32.1,106.0 38.0,105.3 43.8,104.2 49.6,104.5 55.5,103.8 60.7,102.6 65.4,101.1 67.5,99.9 68.5,96.5 67.9,93.6 68.6,89.2 71.5,86.3 75.9,84.1 79.6,84.1 81.8,83.2 84.7,80.9 89.3,78.5 95.8,79.0 100.4,79.7 102.2,77.4 102.8,73.9 102.8,70.4 105.1,68.6 105.1,65.7 106.9,63.4 111.5,62.2 115.0,59.9 113.9,57.0 110.9,54.6 110.1,52.3 113.3,53.1 117.4,53.5 122.0,52.3 124.4,50.0 123.2,47.6 123.8,45.3 125.5,43.5 127.9,41.2 130.2,38.3 129.6,34.2 127.3,31.3 125.3,28.9 127.9,27.2 131.4,25.4 134.9,23.1 139.6,20.8 145.4,19.6 152.4,19.2 159.0,19.2 162.5,18.4 166.0,17.3 173.0,17.6 173.6,19.6 177.7,21.4 180.0,24.3 181.2,28.9 184.1,31.6 187.0,30.9 190.5,33.0 195.2,34.2 199.9,35.6 205.1,35.6 205.7,40.0 206.3,44.1 210.4,46.5 215.7,48.8 214.5,51.1 212.2,54.0 213.3,57.6 216.2,61.1 218.3,64.6 218.8,68.6 216.8,71.6 213.9,71.0 212.2,68.1 208.6,69.8 205.7,68.6 202.8,64.6 199.9,65.7 195.2,65.7 191.7,63.4 188.2,62.2 183.5,64.0 180.0,67.5 177.7,71.0 171.9,74.5 165.4,77.4 164.3,81.5 164.9,86.2 162.6,88.5 159.0,92.6 156.7,96.7 150.9,100.2 148.5,104.9 145.6,109.0 141.5,111.9 138.0,115.4 135.1,118.9 132.2,123.0 125.2,124.7 119.5,125.2 117.2,122.6 114.3,124.5 112.0,127.4 109.0,129.8 106.1,132.7 105.5,136.2 108.5,139.1 112.6,139.7 112.6,143.8 113.7,147.3 115.5,149.6 117.8,149.0 119.0,152.0 120.7,156.1 122.5,159.6 123.6,163.6 120.7,165.4 114.9,166.0 109.0,166.8 102.0,166.0 97.4,167.2 95.0,168.9 89.8,170.1 88.0,171.8 84.5,170.7 81.6,169.5 81.0,165.4 78.7,160.7 74.0,159.0 72.3,157.2 71.1,152.6 68.2,150.7 64.7,152.0 60.0,152.7 56.0,153.4 49.0,154.0 40.9,153.2 35.0,154.0 26.9,154.3 21.0,155.1 15.2,155.7 14.6,152.2 15.2,148.1 16.4,144.0 18.7,141.7 22.2,139.4 26.9,138.4 31.5,137.6 32.7,135.3 32.1,132.1 28.0,131.2 27.4,128.9 27.1,124.2 26.3,120.1 23.4,118.4 18.7,117.2 15.2,115.4 12.8,112.5 11.1,109.0 8.8,104.9Z" fill="none" stroke="#fff" stroke-opacity="0.35" stroke-width="0.8"/></g><text x="233.10" y="372.90" font-size="9.6" font-weight="bold" textLength="119.0" lengthAdjust="spacingAndGlyphs">Vulnerability (2005 - 2013)</text><rect x="235.6" y="381.30" width="8.8" height="8.7" fill="#f00000"/><text x="248.60" y="389.30" font-size="8.3" textLength="38.6" lengthAdjust="spacingAndGlyphs" fill="#111">0.21 - 0.45</text><rect x="235.6" y="391.12" width="8.8" height="8.7" fill="#ff8c05"/><text x="248.60" y="399.12" font-size="8.3" textLength="38.6" lengthAdjust="spacingAndGlyphs" fill="#111">0.16 - 0.20</text><rect x="235.6" y="400.94" width="8.8" height="8.7" fill="#f5f514"/><text x="248.60" y="408.94" font-size="8.3" textLength="38.6" lengthAdjust="spacingAndGlyphs" fill="#111">0.11 - 0.15</text><rect x="235.6" y="410.76" width="8.8" height="8.7" fill="#96f50a"/><text x="248.60" y="418.76" font-size="8.3" textLength="38.6" lengthAdjust="spacingAndGlyphs" fill="#111">0.06 - 0.10</text><rect x="235.6" y="420.58" width="8.8" height="8.7" fill="#00f500"/><text x="248.60" y="428.58" font-size="8.3" textLength="38.6" lengthAdjust="spacingAndGlyphs" fill="#111">0.00 - 0.05</text><g transform="translate(462.0,352.3) scale(0.979)"><g clip-path="url(#pk)"><rect x="2.8" y="3.2" width="221.6" height="12.8" fill="#f00000"/><rect x="2.8" y="171.4" width="221.6" height="7.0" fill="#f00000"/><rect x="2.8" y="14.8" width="99.8" height="12.8" fill="#f00000"/><rect x="2.8" y="49.6" width="99.8" height="7.0" fill="#f00000"/><rect x="2.8" y="61.2" width="99.8" height="18.6" fill="#f00000"/><rect x="101.4" y="14.8" width="88.2" height="7.0" fill="#f5f514"/><rect x="188.4" y="14.8" width="36.0" height="7.0" fill="#96f50a"/><rect x="101.4" y="20.6" width="70.8" height="7.0" fill="#f5f514"/><rect x="171.0" y="20.6" width="53.4" height="7.0" fill="#96f50a"/><rect x="2.8" y="26.4" width="123.0" height="18.6" fill="#f00000"/><rect x="124.6" y="26.4" width="53.4" height="7.0" fill="#f5f514"/><rect x="176.8" y="26.4" width="47.6" height="7.0" fill="#96f50a"/><rect x="124.6" y="32.2" width="7.0" height="7.0" fill="#f5f514"/><rect x="130.4" y="32.2" width="18.6" height="7.0" fill="#96f50a"/><rect x="147.8" y="32.2" width="12.8" height="7.0" fill="#f5f514"/><rect x="159.4" y="32.2" width="65.0" height="7.0" fill="#96f50a"/><rect x="124.6" y="38.0" width="12.8" height="7.0" fill="#00f500"/><rect x="136.2" y="38.0" width="88.2" height="7.0" fill="#96f50a"/><rect x="2.8" y="43.8" width="117.2" height="7.0" fill="#f00000"/><rect x="118.8" y="43.8" width="12.8" height="7.0" fill="#00f500"/><rect x="130.4" y="43.8" width="12.8" height="7.0" fill="#f5f514"/><rect x="142.0" y="43.8" width="82.4" height="7.0" fill="#96f50a"/><rect x="101.4" y="49.6" width="18.6" height="7.0" fill="#00f500"/><rect x="118.8" y="49.6" width="12.8" height="12.8" fill="#96f50a"/><rect x="130.4" y="49.6" width="24.4" height="18.6" fill="#f5f514"/><rect x="153.6" y="49.6" width="70.8" height="7.0" fill="#96f50a"/><rect x="2.8" y="55.4" width="105.6" height="7.0" fill="#f00000"/><rect x="107.2" y="55.4" width="12.8" height="12.8" fill="#00f500"/><rect x="153.6" y="55.4" width="7.0" height="7.0" fill="#ff8c05"/><rect x="159.4" y="55.4" width="7.0" height="7.0" fill="#96f50a"/><rect x="165.2" y="55.4" width="12.8" height="12.8" fill="#f5f514"/><rect x="176.8" y="55.4" width="24.4" height="7.0" fill="#96f50a"/><rect x="200.0" y="55.4" width="12.8" height="12.8" fill="#ff8c05"/><rect x="211.6" y="55.4" width="12.8" height="12.8" fill="#f00000"/><rect x="101.4" y="61.2" width="7.0" height="12.8" fill="#f5f514"/><rect x="118.8" y="61.2" width="12.8" height="7.0" fill="#ff8c05"/><rect x="153.6" y="61.2" width="12.8" height="7.0" fill="#ff8c05"/><rect x="176.8" y="61.2" width="24.4" height="7.0" fill="#f00000"/><rect x="107.2" y="67.0" width="24.4" height="7.0" fill="#ff8c05"/><rect x="130.4" y="67.0" width="7.0" height="7.0" fill="#f5f514"/><rect x="136.2" y="67.0" width="30.2" height="7.0" fill="#ff8c05"/><rect x="165.2" y="67.0" width="59.2" height="7.0" fill="#f00000"/><rect x="101.4" y="72.8" width="53.4" height="7.0" fill="#ff8c05"/><rect x="153.6" y="72.8" width="70.8" height="7.0" fill="#f00000"/><rect x="2.8" y="78.6" width="76.6" height="7.0" fill="#f00000"/><rect x="78.2" y="78.6" width="12.8" height="7.0" fill="#f5f514"/><rect x="78.2" y="113.4" width="12.8" height="7.0" fill="#f5f514"/><rect x="89.8" y="78.6" width="18.6" height="7.0" fill="#ff8c05"/><rect x="107.2" y="78.6" width="7.0" height="7.0" fill="#f00000"/><rect x="113.0" y="78.6" width="24.4" height="7.0" fill="#ff8c05"/><rect x="136.2" y="78.6" width="88.2" height="7.0" fill="#f00000"/><rect x="2.8" y="84.4" width="65.0" height="7.0" fill="#f00000"/><rect x="66.6" y="84.4" width="30.2" height="7.0" fill="#f5f514"/><rect x="95.6" y="84.4" width="7.0" height="7.0" fill="#ff8c05"/><rect x="101.4" y="84.4" width="18.6" height="7.0" fill="#f00000"/><rect x="118.8" y="84.4" width="7.0" height="7.0" fill="#ff8c05"/><rect x="124.6" y="84.4" width="99.8" height="7.0" fill="#f00000"/><rect x="2.8" y="90.2" width="53.4" height="12.8" fill="#f00000"/><rect x="2.8" y="154.0" width="53.4" height="18.6" fill="#f00000"/><rect x="55.0" y="90.2" width="30.2" height="7.0" fill="#f5f514"/><rect x="84.0" y="90.2" width="24.4" height="7.0" fill="#ff8c05"/><rect x="107.2" y="90.2" width="117.2" height="7.0" fill="#f00000"/><rect x="107.2" y="119.2" width="117.2" height="7.0" fill="#f00000"/><rect x="107.2" y="130.8" width="117.2" height="12.8" fill="#f00000"/><rect x="107.2" y="165.6" width="117.2" height="7.0" fill="#f00000"/><rect x="55.0" y="96.0" width="24.4" height="12.8" fill="#f5f514"/><rect x="78.2" y="96.0" width="24.4" height="7.0" fill="#ff8c05"/><rect x="101.4" y="96.0" width="123.0" height="24.4" fill="#f00000"/><rect x="2.8" y="101.8" width="30.2" height="36.0" fill="#f00000"/><rect x="2.8" y="148.2" width="30.2" height="7.0" fill="#f00000"/><rect x="31.8" y="101.8" width="24.4" height="24.4" fill="#ff8c05"/><rect x="78.2" y="101.8" width="12.8" height="7.0" fill="#ff8c05"/><rect x="89.8" y="101.8" width="12.8" height="7.0" fill="#f5f514"/><rect x="55.0" y="107.6" width="7.0" height="12.8" fill="#f5f514"/><rect x="60.8" y="107.6" width="7.0" height="7.0" fill="#96f50a"/><rect x="66.6" y="107.6" width="36.0" height="7.0" fill="#f5f514"/><rect x="60.8" y="113.4" width="18.6" height="7.0" fill="#96f50a"/><rect x="89.8" y="113.4" width="12.8" height="7.0" fill="#96f50a"/><rect x="55.0" y="119.2" width="47.6" height="7.0" fill="#96f50a"/><rect x="101.4" y="119.2" width="7.0" height="7.0" fill="#ff8c05"/><rect x="101.4" y="130.8" width="7.0" height="7.0" fill="#ff8c05"/><rect x="31.8" y="125.0" width="12.8" height="12.8" fill="#ff8c05"/><rect x="31.8" y="148.2" width="12.8" height="7.0" fill="#ff8c05"/><rect x="43.4" y="125.0" width="12.8" height="24.4" fill="#f5f514"/><rect x="55.0" y="125.0" width="41.8" height="7.0" fill="#96f50a"/><rect x="95.6" y="125.0" width="18.6" height="7.0" fill="#ff8c05"/><rect x="113.0" y="125.0" width="111.4" height="7.0" fill="#f00000"/><rect x="113.0" y="142.4" width="111.4" height="7.0" fill="#f00000"/><rect x="55.0" y="130.8" width="24.4" height="7.0" fill="#96f50a"/><rect x="78.2" y="130.8" width="7.0" height="7.0" fill="#00f500"/><rect x="84.0" y="130.8" width="18.6" height="7.0" fill="#96f50a"/><rect x="2.8" y="136.6" width="18.6" height="12.8" fill="#f00000"/><rect x="20.2" y="136.6" width="24.4" height="12.8" fill="#ff8c05"/><rect x="55.0" y="136.6" width="41.8" height="12.8" fill="#00f500"/><rect x="55.0" y="154.0" width="41.8" height="18.6" fill="#00f500"/><rect x="95.6" y="136.6" width="12.8" height="18.6" fill="#96f50a"/><rect x="95.6" y="165.6" width="12.8" height="7.0" fill="#96f50a"/><rect x="107.2" y="142.4" width="7.0" height="7.0" fill="#f5f514"/><rect x="43.4" y="148.2" width="7.0" height="7.0" fill="#f00000"/><rect x="49.2" y="148.2" width="47.6" height="7.0" fill="#00f500"/><rect x="107.2" y="148.2" width="12.8" height="7.0" fill="#f5f514"/><rect x="118.8" y="148.2" width="105.6" height="7.0" fill="#f00000"/><rect x="95.6" y="154.0" width="18.6" height="7.0" fill="#96f50a"/><rect x="113.0" y="154.0" width="18.6" height="7.0" fill="#f5f514"/><rect x="130.4" y="154.0" width="94.0" height="12.8" fill="#f00000"/><rect x="95.6" y="159.8" width="36.0" height="7.0" fill="#96f50a"/></g><path d="M5.5,101.0 11.7,103.2 17.5,104.8 24.8,106.4 32.1,106.0 38.0,105.3 43.8,104.2 49.6,104.5 55.5,103.8 60.7,102.6 65.4,101.1 67.5,99.9 68.5,96.5 67.9,93.6 68.6,89.2 71.5,86.3 75.9,84.1 79.6,84.1 81.8,83.2 84.7,80.9 89.3,78.5 95.8,79.0 100.4,79.7 102.2,77.4 102.8,73.9 102.8,70.4 105.1,68.6 105.1,65.7 106.9,63.4 111.5,62.2 115.0,59.9 113.9,57.0 110.9,54.6 110.1,52.3 113.3,53.1 117.4,53.5 122.0,52.3 124.4,50.0 123.2,47.6 123.8,45.3 125.5,43.5 127.9,41.2 130.2,38.3 129.6,34.2 127.3,31.3 125.3,28.9 127.9,27.2 131.4,25.4 134.9,23.1 139.6,20.8 145.4,19.6 152.4,19.2 159.0,19.2 162.5,18.4 166.0,17.3 173.0,17.6 173.6,19.6 177.7,21.4 180.0,24.3 181.2,28.9 184.1,31.6 187.0,30.9 190.5,33.0 195.2,34.2 199.9,35.6 205.1,35.6 205.7,40.0 206.3,44.1 210.4,46.5 215.7,48.8 214.5,51.1 212.2,54.0 213.3,57.6 216.2,61.1 218.3,64.6 218.8,68.6 216.8,71.6 213.9,71.0 212.2,68.1 208.6,69.8 205.7,68.6 202.8,64.6 199.9,65.7 195.2,65.7 191.7,63.4 188.2,62.2 183.5,64.0 180.0,67.5 177.7,71.0 171.9,74.5 165.4,77.4 164.3,81.5 164.9,86.2 162.6,88.5 159.0,92.6 156.7,96.7 150.9,100.2 148.5,104.9 145.6,109.0 141.5,111.9 138.0,115.4 135.1,118.9 132.2,123.0 125.2,124.7 119.5,125.2 117.2,122.6 114.3,124.5 112.0,127.4 109.0,129.8 106.1,132.7 105.5,136.2 108.5,139.1 112.6,139.7 112.6,143.8 113.7,147.3 115.5,149.6 117.8,149.0 119.0,152.0 120.7,156.1 122.5,159.6 123.6,163.6 120.7,165.4 114.9,166.0 109.0,166.8 102.0,166.0 97.4,167.2 95.0,168.9 89.8,170.1 88.0,171.8 84.5,170.7 81.6,169.5 81.0,165.4 78.7,160.7 74.0,159.0 72.3,157.2 71.1,152.6 68.2,150.7 64.7,152.0 60.0,152.7 56.0,153.4 49.0,154.0 40.9,153.2 35.0,154.0 26.9,154.3 21.0,155.1 15.2,155.7 14.6,152.2 15.2,148.1 16.4,144.0 18.7,141.7 22.2,139.4 26.9,138.4 31.5,137.6 32.7,135.3 32.1,132.1 28.0,131.2 27.4,128.9 27.1,124.2 26.3,120.1 23.4,118.4 18.7,117.2 15.2,115.4 12.8,112.5 11.1,109.0 8.8,104.9Z" fill="none" stroke="#fff" stroke-opacity="0.35" stroke-width="0.8"/></g><text x="463.60" y="372.90" font-size="9.6" font-weight="bold" textLength="119.0" lengthAdjust="spacingAndGlyphs">Vulnerability (2008 - 2016)</text><rect x="464.4" y="380.90" width="8.8" height="8.7" fill="#f00000"/><text x="477.60" y="388.90" font-size="8.3" textLength="38.6" lengthAdjust="spacingAndGlyphs" fill="#111">0.21 - 0.45</text><rect x="464.4" y="390.72" width="8.8" height="8.7" fill="#ff8c05"/><text x="477.60" y="398.72" font-size="8.3" textLength="38.6" lengthAdjust="spacingAndGlyphs" fill="#111">0.16 - 0.20</text><rect x="464.4" y="400.54" width="8.8" height="8.7" fill="#f5f514"/><text x="477.60" y="408.54" font-size="8.3" textLength="38.6" lengthAdjust="spacingAndGlyphs" fill="#111">0.11 - 0.15</text><rect x="464.4" y="410.36" width="8.8" height="8.7" fill="#96f50a"/><text x="477.60" y="418.36" font-size="8.3" textLength="38.6" lengthAdjust="spacingAndGlyphs" fill="#111">0.06 - 0.10</text><rect x="464.4" y="420.18" width="8.8" height="8.7" fill="#00f500"/><text x="477.60" y="428.18" font-size="8.3" textLength="38.6" lengthAdjust="spacingAndGlyphs" fill="#111">0.00 - 0.05</text><g transform="translate(0.5,528.4) scale(0.979)"><g clip-path="url(#pk)"><rect x="2.8" y="3.2" width="30.2" height="105.6" fill="#00f500"/><rect x="31.8" y="3.2" width="192.6" height="12.8" fill="#ffb010"/><rect x="31.8" y="61.2" width="192.6" height="7.0" fill="#ffb010"/><rect x="31.8" y="14.8" width="70.8" height="18.6" fill="#ffb010"/><rect x="31.8" y="49.6" width="70.8" height="7.0" fill="#ffb010"/><rect x="31.8" y="84.4" width="70.8" height="7.0" fill="#ffb010"/><rect x="101.4" y="14.8" width="123.0" height="18.6" fill="#f00000"/><rect x="31.8" y="32.2" width="94.0" height="12.8" fill="#ffb010"/><rect x="124.6" y="32.2" width="18.6" height="7.0" fill="#f00000"/><rect x="142.0" y="32.2" width="7.0" height="7.0" fill="#ffb010"/><rect x="147.8" y="32.2" width="41.8" height="7.0" fill="#f00000"/><rect x="188.4" y="32.2" width="36.0" height="7.0" fill="#ffb010"/><rect x="124.6" y="38.0" width="24.4" height="7.0" fill="#f00000"/><rect x="147.8" y="38.0" width="12.8" height="7.0" fill="#ffb010"/><rect x="159.4" y="38.0" width="24.4" height="7.0" fill="#f00000"/><rect x="182.6" y="38.0" width="41.8" height="7.0" fill="#ffb010"/><rect x="182.6" y="107.6" width="41.8" height="18.6" fill="#ffb010"/><rect x="31.8" y="43.8" width="88.2" height="7.0" fill="#ffb010"/><rect x="31.8" y="55.4" width="88.2" height="7.0" fill="#ffb010"/><rect x="31.8" y="72.8" width="88.2" height="7.0" fill="#ffb010"/><rect x="118.8" y="43.8" width="24.4" height="7.0" fill="#f00000"/><rect x="142.0" y="43.8" width="82.4" height="7.0" fill="#ffb010"/><rect x="142.0" y="101.8" width="82.4" height="7.0" fill="#ffb010"/><rect x="101.4" y="49.6" width="47.6" height="7.0" fill="#f00000"/><rect x="101.4" y="96.0" width="47.6" height="7.0" fill="#f00000"/><rect x="147.8" y="49.6" width="76.6" height="7.0" fill="#ffb010"/><rect x="147.8" y="78.6" width="76.6" height="7.0" fill="#ffb010"/><rect x="147.8" y="90.2" width="76.6" height="12.8" fill="#ffb010"/><rect x="118.8" y="55.4" width="12.8" height="7.0" fill="#f00000"/><rect x="130.4" y="55.4" width="94.0" height="7.0" fill="#ffb010"/><rect x="130.4" y="142.4" width="94.0" height="30.2" fill="#ffb010"/><rect x="31.8" y="67.0" width="105.6" height="7.0" fill="#ffb010"/><rect x="136.2" y="67.0" width="18.6" height="7.0" fill="#f00000"/><rect x="153.6" y="67.0" width="70.8" height="12.8" fill="#ffb010"/><rect x="153.6" y="84.4" width="70.8" height="7.0" fill="#ffb010"/><rect x="118.8" y="72.8" width="36.0" height="7.0" fill="#f00000"/><rect x="31.8" y="78.6" width="76.6" height="7.0" fill="#ffb010"/><rect x="107.2" y="78.6" width="41.8" height="7.0" fill="#f00000"/><rect x="107.2" y="90.2" width="41.8" height="7.0" fill="#f00000"/><rect x="101.4" y="84.4" width="53.4" height="7.0" fill="#f00000"/><rect x="31.8" y="90.2" width="53.4" height="7.0" fill="#ffb010"/><rect x="84.0" y="90.2" width="7.0" height="7.0" fill="#f00000"/><rect x="84.0" y="159.8" width="7.0" height="7.0" fill="#f00000"/><rect x="89.8" y="90.2" width="18.6" height="7.0" fill="#ffb010"/><rect x="89.8" y="119.2" width="18.6" height="7.0" fill="#ffb010"/><rect x="31.8" y="96.0" width="36.0" height="7.0" fill="#ffb010"/><rect x="66.6" y="96.0" width="24.4" height="7.0" fill="#f00000"/><rect x="89.8" y="96.0" width="12.8" height="24.4" fill="#ffb010"/><rect x="31.8" y="101.8" width="59.2" height="12.8" fill="#f00000"/><rect x="101.4" y="101.8" width="41.8" height="7.0" fill="#f00000"/><rect x="2.8" y="107.6" width="18.6" height="18.6" fill="#00f500"/><rect x="20.2" y="107.6" width="12.8" height="7.0" fill="#ffb010"/><rect x="101.4" y="107.6" width="82.4" height="12.8" fill="#f00000"/><rect x="20.2" y="113.4" width="24.4" height="12.8" fill="#ffb010"/><rect x="43.4" y="113.4" width="47.6" height="12.8" fill="#f00000"/><rect x="107.2" y="119.2" width="76.6" height="7.0" fill="#f00000"/><rect x="2.8" y="125.0" width="53.4" height="7.0" fill="#ffb010"/><rect x="2.8" y="136.6" width="53.4" height="7.0" fill="#ffb010"/><rect x="55.0" y="125.0" width="36.0" height="7.0" fill="#f00000"/><rect x="89.8" y="125.0" width="134.6" height="7.0" fill="#ffb010"/><rect x="2.8" y="130.8" width="65.0" height="7.0" fill="#ffb010"/><rect x="66.6" y="130.8" width="30.2" height="7.0" fill="#f00000"/><rect x="95.6" y="130.8" width="128.8" height="7.0" fill="#ffb010"/><rect x="55.0" y="136.6" width="12.8" height="7.0" fill="#f00000"/><rect x="66.6" y="136.6" width="7.0" height="7.0" fill="#ffb010"/><rect x="72.4" y="136.6" width="18.6" height="7.0" fill="#f00000"/><rect x="89.8" y="136.6" width="7.0" height="7.0" fill="#ffb010"/><rect x="89.8" y="159.8" width="7.0" height="7.0" fill="#ffb010"/><rect x="95.6" y="136.6" width="18.6" height="7.0" fill="#f00000"/><rect x="113.0" y="136.6" width="111.4" height="7.0" fill="#ffb010"/><rect x="2.8" y="142.4" width="94.0" height="7.0" fill="#ffb010"/><rect x="95.6" y="142.4" width="36.0" height="7.0" fill="#f00000"/><rect x="95.6" y="159.8" width="36.0" height="7.0" fill="#f00000"/><rect x="2.8" y="148.2" width="41.8" height="7.0" fill="#ffb010"/><rect x="43.4" y="148.2" width="7.0" height="7.0" fill="#00f500"/><rect x="49.2" y="148.2" width="59.2" height="7.0" fill="#ffb010"/><rect x="107.2" y="148.2" width="24.4" height="12.8" fill="#f00000"/><rect x="2.8" y="154.0" width="105.6" height="7.0" fill="#ffb010"/><rect x="2.8" y="159.8" width="82.4" height="12.8" fill="#ffb010"/><rect x="84.0" y="165.6" width="47.6" height="7.0" fill="#f00000"/><rect x="2.8" y="171.4" width="221.6" height="7.0" fill="#ffb010"/></g><path d="M5.5,101.0 11.7,103.2 17.5,104.8 24.8,106.4 32.1,106.0 38.0,105.3 43.8,104.2 49.6,104.5 55.5,103.8 60.7,102.6 65.4,101.1 67.5,99.9 68.5,96.5 67.9,93.6 68.6,89.2 71.5,86.3 75.9,84.1 79.6,84.1 81.8,83.2 84.7,80.9 89.3,78.5 95.8,79.0 100.4,79.7 102.2,77.4 102.8,73.9 102.8,70.4 105.1,68.6 105.1,65.7 106.9,63.4 111.5,62.2 115.0,59.9 113.9,57.0 110.9,54.6 110.1,52.3 113.3,53.1 117.4,53.5 122.0,52.3 124.4,50.0 123.2,47.6 123.8,45.3 125.5,43.5 127.9,41.2 130.2,38.3 129.6,34.2 127.3,31.3 125.3,28.9 127.9,27.2 131.4,25.4 134.9,23.1 139.6,20.8 145.4,19.6 152.4,19.2 159.0,19.2 162.5,18.4 166.0,17.3 173.0,17.6 173.6,19.6 177.7,21.4 180.0,24.3 181.2,28.9 184.1,31.6 187.0,30.9 190.5,33.0 195.2,34.2 199.9,35.6 205.1,35.6 205.7,40.0 206.3,44.1 210.4,46.5 215.7,48.8 214.5,51.1 212.2,54.0 213.3,57.6 216.2,61.1 218.3,64.6 218.8,68.6 216.8,71.6 213.9,71.0 212.2,68.1 208.6,69.8 205.7,68.6 202.8,64.6 199.9,65.7 195.2,65.7 191.7,63.4 188.2,62.2 183.5,64.0 180.0,67.5 177.7,71.0 171.9,74.5 165.4,77.4 164.3,81.5 164.9,86.2 162.6,88.5 159.0,92.6 156.7,96.7 150.9,100.2 148.5,104.9 145.6,109.0 141.5,111.9 138.0,115.4 135.1,118.9 132.2,123.0 125.2,124.7 119.5,125.2 117.2,122.6 114.3,124.5 112.0,127.4 109.0,129.8 106.1,132.7 105.5,136.2 108.5,139.1 112.6,139.7 112.6,143.8 113.7,147.3 115.5,149.6 117.8,149.0 119.0,152.0 120.7,156.1 122.5,159.6 123.6,163.6 120.7,165.4 114.9,166.0 109.0,166.8 102.0,166.0 97.4,167.2 95.0,168.9 89.8,170.1 88.0,171.8 84.5,170.7 81.6,169.5 81.0,165.4 78.7,160.7 74.0,159.0 72.3,157.2 71.1,152.6 68.2,150.7 64.7,152.0 60.0,152.7 56.0,153.4 49.0,154.0 40.9,153.2 35.0,154.0 26.9,154.3 21.0,155.1 15.2,155.7 14.6,152.2 15.2,148.1 16.4,144.0 18.7,141.7 22.2,139.4 26.9,138.4 31.5,137.6 32.7,135.3 32.1,132.1 28.0,131.2 27.4,128.9 27.1,124.2 26.3,120.1 23.4,118.4 18.7,117.2 15.2,115.4 12.8,112.5 11.1,109.0 8.8,104.9Z" fill="none" stroke="#fff" stroke-opacity="0.35" stroke-width="0.8"/></g><text x="0.10" y="549.90" font-size="9.6" font-weight="bold" textLength="123.1" lengthAdjust="spacingAndGlyphs">Sustainability (2002 - 2010)</text><rect x="0.4" y="554.80" width="8.8" height="8.7" fill="#f00000"/><text x="13.70" y="562.80" font-size="8.3" textLength="38.6" lengthAdjust="spacingAndGlyphs" fill="#111">0.44 - 0.58</text><rect x="0.4" y="564.62" width="8.8" height="8.7" fill="#ffb010"/><text x="13.70" y="572.62" font-size="8.3" textLength="38.6" lengthAdjust="spacingAndGlyphs" fill="#111">0.59 - 0.72</text><rect x="0.4" y="574.44" width="8.8" height="8.7" fill="#c3f50a"/><text x="13.70" y="582.44" font-size="8.3" textLength="38.6" lengthAdjust="spacingAndGlyphs" fill="#111">0.73 - 0.86</text><rect x="0.4" y="584.26" width="8.8" height="8.7" fill="#00f500"/><text x="13.70" y="592.26" font-size="8.3" textLength="38.6" lengthAdjust="spacingAndGlyphs" fill="#111">0.87 - 1.00</text><g transform="translate(231.0,528.4) scale(0.979)"><g clip-path="url(#pk)"><rect x="2.8" y="3.2" width="30.2" height="105.6" fill="#ffb010"/><rect x="31.8" y="3.2" width="47.6" height="88.2" fill="#00f500"/><rect x="31.8" y="96.0" width="47.6" height="12.8" fill="#00f500"/><rect x="78.2" y="3.2" width="146.2" height="12.8" fill="#ffb010"/><rect x="78.2" y="55.4" width="146.2" height="7.0" fill="#ffb010"/><rect x="78.2" y="165.6" width="146.2" height="7.0" fill="#ffb010"/><rect x="78.2" y="14.8" width="24.4" height="18.6" fill="#ffb010"/><rect x="78.2" y="49.6" width="24.4" height="7.0" fill="#ffb010"/><rect x="78.2" y="72.8" width="24.4" height="7.0" fill="#ffb010"/><rect x="78.2" y="84.4" width="24.4" height="7.0" fill="#ffb010"/><rect x="78.2" y="96.0" width="24.4" height="12.8" fill="#ffb010"/><rect x="101.4" y="14.8" width="123.0" height="18.6" fill="#f00000"/><rect x="78.2" y="32.2" width="47.6" height="7.0" fill="#ffb010"/><rect x="124.6" y="32.2" width="7.0" height="7.0" fill="#f00000"/><rect x="130.4" y="32.2" width="18.6" height="7.0" fill="#ffb010"/><rect x="147.8" y="32.2" width="41.8" height="7.0" fill="#f00000"/><rect x="188.4" y="32.2" width="36.0" height="7.0" fill="#ffb010"/><rect x="78.2" y="38.0" width="82.4" height="7.0" fill="#ffb010"/><rect x="159.4" y="38.0" width="24.4" height="7.0" fill="#f00000"/><rect x="182.6" y="38.0" width="41.8" height="7.0" fill="#ffb010"/><rect x="182.6" y="107.6" width="41.8" height="18.6" fill="#ffb010"/><rect x="78.2" y="43.8" width="41.8" height="7.0" fill="#ffb010"/><rect x="78.2" y="61.2" width="41.8" height="7.0" fill="#ffb010"/><rect x="118.8" y="43.8" width="7.0" height="7.0" fill="#00f500"/><rect x="124.6" y="43.8" width="99.8" height="7.0" fill="#ffb010"/><rect x="101.4" y="49.6" width="18.6" height="7.0" fill="#00f500"/><rect x="118.8" y="49.6" width="105.6" height="7.0" fill="#ffb010"/><rect x="118.8" y="159.8" width="105.6" height="7.0" fill="#ffb010"/><rect x="118.8" y="61.2" width="12.8" height="7.0" fill="#f00000"/><rect x="130.4" y="61.2" width="94.0" height="7.0" fill="#ffb010"/><rect x="130.4" y="154.0" width="94.0" height="7.0" fill="#ffb010"/><rect x="78.2" y="67.0" width="30.2" height="7.0" fill="#ffb010"/><rect x="78.2" y="78.6" width="30.2" height="7.0" fill="#ffb010"/><rect x="107.2" y="67.0" width="24.4" height="7.0" fill="#f00000"/><rect x="107.2" y="154.0" width="24.4" height="7.0" fill="#f00000"/><rect x="130.4" y="67.0" width="7.0" height="7.0" fill="#ffb010"/><rect x="136.2" y="67.0" width="18.6" height="7.0" fill="#f00000"/><rect x="153.6" y="67.0" width="70.8" height="7.0" fill="#ffb010"/><rect x="153.6" y="84.4" width="70.8" height="7.0" fill="#ffb010"/><rect x="101.4" y="72.8" width="59.2" height="7.0" fill="#f00000"/><rect x="159.4" y="72.8" width="65.0" height="7.0" fill="#ffb010"/><rect x="107.2" y="78.6" width="59.2" height="7.0" fill="#f00000"/><rect x="165.2" y="78.6" width="59.2" height="7.0" fill="#ffb010"/><rect x="101.4" y="84.4" width="53.4" height="7.0" fill="#f00000"/><rect x="31.8" y="90.2" width="53.4" height="7.0" fill="#00f500"/><rect x="84.0" y="90.2" width="24.4" height="7.0" fill="#ffb010"/><rect x="84.0" y="154.0" width="24.4" height="7.0" fill="#ffb010"/><rect x="107.2" y="90.2" width="41.8" height="7.0" fill="#f00000"/><rect x="147.8" y="90.2" width="76.6" height="12.8" fill="#ffb010"/><rect x="101.4" y="96.0" width="47.6" height="7.0" fill="#f00000"/><rect x="101.4" y="101.8" width="41.8" height="7.0" fill="#f00000"/><rect x="142.0" y="101.8" width="82.4" height="7.0" fill="#ffb010"/><rect x="2.8" y="107.6" width="18.6" height="18.6" fill="#ffb010"/><rect x="20.2" y="107.6" width="70.8" height="18.6" fill="#00f500"/><rect x="89.8" y="107.6" width="12.8" height="12.8" fill="#ffb010"/><rect x="101.4" y="107.6" width="82.4" height="12.8" fill="#f00000"/><rect x="89.8" y="119.2" width="18.6" height="7.0" fill="#ffb010"/><rect x="107.2" y="119.2" width="76.6" height="7.0" fill="#f00000"/><rect x="2.8" y="125.0" width="88.2" height="7.0" fill="#00f500"/><rect x="2.8" y="136.6" width="88.2" height="7.0" fill="#00f500"/><rect x="89.8" y="125.0" width="134.6" height="7.0" fill="#ffb010"/><rect x="2.8" y="130.8" width="82.4" height="7.0" fill="#00f500"/><rect x="2.8" y="142.4" width="82.4" height="7.0" fill="#00f500"/><rect x="2.8" y="154.0" width="82.4" height="7.0" fill="#00f500"/><rect x="84.0" y="130.8" width="12.8" height="7.0" fill="#f00000"/><rect x="95.6" y="130.8" width="128.8" height="7.0" fill="#ffb010"/><rect x="89.8" y="136.6" width="7.0" height="7.0" fill="#ffb010"/><rect x="95.6" y="136.6" width="18.6" height="7.0" fill="#f00000"/><rect x="113.0" y="136.6" width="111.4" height="7.0" fill="#ffb010"/><rect x="84.0" y="142.4" width="12.8" height="7.0" fill="#ffb010"/><rect x="95.6" y="142.4" width="12.8" height="7.0" fill="#f00000"/><rect x="107.2" y="142.4" width="117.2" height="7.0" fill="#ffb010"/><rect x="2.8" y="148.2" width="41.8" height="7.0" fill="#00f500"/><rect x="43.4" y="148.2" width="7.0" height="7.0" fill="#ffb010"/><rect x="49.2" y="148.2" width="36.0" height="7.0" fill="#00f500"/><rect x="84.0" y="148.2" width="140.4" height="7.0" fill="#ffb010"/><rect x="2.8" y="159.8" width="76.6" height="12.8" fill="#00f500"/><rect x="78.2" y="159.8" width="18.6" height="7.0" fill="#ffb010"/><rect x="95.6" y="159.8" width="24.4" height="7.0" fill="#f00000"/><rect x="2.8" y="171.4" width="221.6" height="7.0" fill="#ffb010"/></g><path d="M5.5,101.0 11.7,103.2 17.5,104.8 24.8,106.4 32.1,106.0 38.0,105.3 43.8,104.2 49.6,104.5 55.5,103.8 60.7,102.6 65.4,101.1 67.5,99.9 68.5,96.5 67.9,93.6 68.6,89.2 71.5,86.3 75.9,84.1 79.6,84.1 81.8,83.2 84.7,80.9 89.3,78.5 95.8,79.0 100.4,79.7 102.2,77.4 102.8,73.9 102.8,70.4 105.1,68.6 105.1,65.7 106.9,63.4 111.5,62.2 115.0,59.9 113.9,57.0 110.9,54.6 110.1,52.3 113.3,53.1 117.4,53.5 122.0,52.3 124.4,50.0 123.2,47.6 123.8,45.3 125.5,43.5 127.9,41.2 130.2,38.3 129.6,34.2 127.3,31.3 125.3,28.9 127.9,27.2 131.4,25.4 134.9,23.1 139.6,20.8 145.4,19.6 152.4,19.2 159.0,19.2 162.5,18.4 166.0,17.3 173.0,17.6 173.6,19.6 177.7,21.4 180.0,24.3 181.2,28.9 184.1,31.6 187.0,30.9 190.5,33.0 195.2,34.2 199.9,35.6 205.1,35.6 205.7,40.0 206.3,44.1 210.4,46.5 215.7,48.8 214.5,51.1 212.2,54.0 213.3,57.6 216.2,61.1 218.3,64.6 218.8,68.6 216.8,71.6 213.9,71.0 212.2,68.1 208.6,69.8 205.7,68.6 202.8,64.6 199.9,65.7 195.2,65.7 191.7,63.4 188.2,62.2 183.5,64.0 180.0,67.5 177.7,71.0 171.9,74.5 165.4,77.4 164.3,81.5 164.9,86.2 162.6,88.5 159.0,92.6 156.7,96.7 150.9,100.2 148.5,104.9 145.6,109.0 141.5,111.9 138.0,115.4 135.1,118.9 132.2,123.0 125.2,124.7 119.5,125.2 117.2,122.6 114.3,124.5 112.0,127.4 109.0,129.8 106.1,132.7 105.5,136.2 108.5,139.1 112.6,139.7 112.6,143.8 113.7,147.3 115.5,149.6 117.8,149.0 119.0,152.0 120.7,156.1 122.5,159.6 123.6,163.6 120.7,165.4 114.9,166.0 109.0,166.8 102.0,166.0 97.4,167.2 95.0,168.9 89.8,170.1 88.0,171.8 84.5,170.7 81.6,169.5 81.0,165.4 78.7,160.7 74.0,159.0 72.3,157.2 71.1,152.6 68.2,150.7 64.7,152.0 60.0,152.7 56.0,153.4 49.0,154.0 40.9,153.2 35.0,154.0 26.9,154.3 21.0,155.1 15.2,155.7 14.6,152.2 15.2,148.1 16.4,144.0 18.7,141.7 22.2,139.4 26.9,138.4 31.5,137.6 32.7,135.3 32.1,132.1 28.0,131.2 27.4,128.9 27.1,124.2 26.3,120.1 23.4,118.4 18.7,117.2 15.2,115.4 12.8,112.5 11.1,109.0 8.8,104.9Z" fill="none" stroke="#fff" stroke-opacity="0.35" stroke-width="0.8"/></g><text x="230.10" y="549.40" font-size="9.6" font-weight="bold" textLength="123.1" lengthAdjust="spacingAndGlyphs">Sustainability (2005 - 2013)</text><rect x="230.9" y="555.10" width="8.8" height="8.7" fill="#f00000"/><text x="244.20" y="563.10" font-size="8.3" textLength="38.6" lengthAdjust="spacingAndGlyphs" fill="#111">0.44 - 0.58</text><rect x="230.9" y="564.92" width="8.8" height="8.7" fill="#ffb010"/><text x="244.20" y="572.92" font-size="8.3" textLength="38.6" lengthAdjust="spacingAndGlyphs" fill="#111">0.59 - 0.72</text><rect x="230.9" y="574.74" width="8.8" height="8.7" fill="#c3f50a"/><text x="244.20" y="582.74" font-size="8.3" textLength="38.6" lengthAdjust="spacingAndGlyphs" fill="#111">0.73 - 0.86</text><rect x="230.9" y="584.56" width="8.8" height="8.7" fill="#00f500"/><text x="244.20" y="592.56" font-size="8.3" textLength="38.6" lengthAdjust="spacingAndGlyphs" fill="#111">0.87 - 1.00</text><g transform="translate(462.0,528.4) scale(0.979)"><g clip-path="url(#pk)"><rect x="2.8" y="3.2" width="30.2" height="105.6" fill="#f00000"/><rect x="2.8" y="113.4" width="30.2" height="36.0" fill="#f00000"/><rect x="2.8" y="154.0" width="30.2" height="18.6" fill="#f00000"/><rect x="31.8" y="3.2" width="192.6" height="12.8" fill="#ffb010"/><rect x="31.8" y="125.0" width="192.6" height="12.8" fill="#ffb010"/><rect x="31.8" y="14.8" width="70.8" height="18.6" fill="#ffb010"/><rect x="31.8" y="49.6" width="70.8" height="7.0" fill="#ffb010"/><rect x="31.8" y="72.8" width="70.8" height="7.0" fill="#ffb010"/><rect x="31.8" y="84.4" width="70.8" height="7.0" fill="#ffb010"/><rect x="31.8" y="96.0" width="70.8" height="12.8" fill="#ffb010"/><rect x="31.8" y="113.4" width="70.8" height="7.0" fill="#ffb010"/><rect x="101.4" y="14.8" width="123.0" height="18.6" fill="#f00000"/><rect x="101.4" y="72.8" width="123.0" height="7.0" fill="#f00000"/><rect x="101.4" y="84.4" width="123.0" height="7.0" fill="#f00000"/><rect x="101.4" y="96.0" width="123.0" height="24.4" fill="#f00000"/><rect x="31.8" y="32.2" width="94.0" height="7.0" fill="#ffb010"/><rect x="124.6" y="32.2" width="7.0" height="7.0" fill="#f00000"/><rect x="130.4" y="32.2" width="18.6" height="7.0" fill="#ffb010"/><rect x="147.8" y="32.2" width="41.8" height="7.0" fill="#f00000"/><rect x="188.4" y="32.2" width="36.0" height="7.0" fill="#ffb010"/><rect x="31.8" y="38.0" width="128.8" height="7.0" fill="#ffb010"/><rect x="159.4" y="38.0" width="24.4" height="7.0" fill="#f00000"/><rect x="182.6" y="38.0" width="41.8" height="7.0" fill="#ffb010"/><rect x="31.8" y="43.8" width="88.2" height="7.0" fill="#ffb010"/><rect x="31.8" y="61.2" width="88.2" height="7.0" fill="#ffb010"/><rect x="118.8" y="43.8" width="7.0" height="7.0" fill="#00f500"/><rect x="124.6" y="43.8" width="99.8" height="7.0" fill="#ffb010"/><rect x="124.6" y="154.0" width="99.8" height="7.0" fill="#ffb010"/><rect x="101.4" y="49.6" width="18.6" height="7.0" fill="#00f500"/><rect x="118.8" y="49.6" width="105.6" height="7.0" fill="#ffb010"/><rect x="118.8" y="159.8" width="105.6" height="7.0" fill="#ffb010"/><rect x="31.8" y="55.4" width="181.0" height="7.0" fill="#ffb010"/><rect x="211.6" y="55.4" width="12.8" height="12.8" fill="#f00000"/><rect x="118.8" y="61.2" width="12.8" height="7.0" fill="#f00000"/><rect x="130.4" y="61.2" width="47.6" height="7.0" fill="#ffb010"/><rect x="176.8" y="61.2" width="24.4" height="7.0" fill="#f00000"/><rect x="200.0" y="61.2" width="12.8" height="7.0" fill="#ffb010"/><rect x="31.8" y="67.0" width="76.6" height="7.0" fill="#ffb010"/><rect x="31.8" y="78.6" width="76.6" height="7.0" fill="#ffb010"/><rect x="31.8" y="90.2" width="76.6" height="7.0" fill="#ffb010"/><rect x="31.8" y="119.2" width="76.6" height="7.0" fill="#ffb010"/><rect x="107.2" y="67.0" width="24.4" height="7.0" fill="#f00000"/><rect x="130.4" y="67.0" width="7.0" height="7.0" fill="#ffb010"/><rect x="136.2" y="67.0" width="18.6" height="7.0" fill="#f00000"/><rect x="153.6" y="67.0" width="12.8" height="7.0" fill="#ffb010"/><rect x="165.2" y="67.0" width="59.2" height="7.0" fill="#f00000"/><rect x="107.2" y="78.6" width="117.2" height="7.0" fill="#f00000"/><rect x="107.2" y="90.2" width="117.2" height="7.0" fill="#f00000"/><rect x="107.2" y="119.2" width="117.2" height="7.0" fill="#f00000"/><rect x="2.8" y="107.6" width="41.8" height="7.0" fill="#f00000"/><rect x="43.4" y="107.6" width="59.2" height="7.0" fill="#ffb010"/><rect x="31.8" y="136.6" width="65.0" height="7.0" fill="#ffb010"/><rect x="95.6" y="136.6" width="18.6" height="7.0" fill="#f00000"/><rect x="113.0" y="136.6" width="111.4" height="7.0" fill="#ffb010"/><rect x="31.8" y="142.4" width="30.2" height="7.0" fill="#ffb010"/><rect x="60.8" y="142.4" width="24.4" height="7.0" fill="#00f500"/><rect x="84.0" y="142.4" width="12.8" height="12.8" fill="#ffb010"/><rect x="95.6" y="142.4" width="12.8" height="12.8" fill="#f00000"/><rect x="107.2" y="142.4" width="117.2" height="12.8" fill="#ffb010"/><rect x="2.8" y="148.2" width="47.6" height="7.0" fill="#f00000"/><rect x="49.2" y="148.2" width="36.0" height="7.0" fill="#00f500"/><rect x="31.8" y="154.0" width="18.6" height="18.6" fill="#ffb010"/><rect x="49.2" y="154.0" width="47.6" height="18.6" fill="#00f500"/><rect x="95.6" y="154.0" width="30.2" height="7.0" fill="#f00000"/><rect x="95.6" y="159.8" width="24.4" height="7.0" fill="#f00000"/><rect x="95.6" y="165.6" width="128.8" height="7.0" fill="#ffb010"/><rect x="2.8" y="171.4" width="221.6" height="7.0" fill="#ffb010"/></g><path d="M5.5,101.0 11.7,103.2 17.5,104.8 24.8,106.4 32.1,106.0 38.0,105.3 43.8,104.2 49.6,104.5 55.5,103.8 60.7,102.6 65.4,101.1 67.5,99.9 68.5,96.5 67.9,93.6 68.6,89.2 71.5,86.3 75.9,84.1 79.6,84.1 81.8,83.2 84.7,80.9 89.3,78.5 95.8,79.0 100.4,79.7 102.2,77.4 102.8,73.9 102.8,70.4 105.1,68.6 105.1,65.7 106.9,63.4 111.5,62.2 115.0,59.9 113.9,57.0 110.9,54.6 110.1,52.3 113.3,53.1 117.4,53.5 122.0,52.3 124.4,50.0 123.2,47.6 123.8,45.3 125.5,43.5 127.9,41.2 130.2,38.3 129.6,34.2 127.3,31.3 125.3,28.9 127.9,27.2 131.4,25.4 134.9,23.1 139.6,20.8 145.4,19.6 152.4,19.2 159.0,19.2 162.5,18.4 166.0,17.3 173.0,17.6 173.6,19.6 177.7,21.4 180.0,24.3 181.2,28.9 184.1,31.6 187.0,30.9 190.5,33.0 195.2,34.2 199.9,35.6 205.1,35.6 205.7,40.0 206.3,44.1 210.4,46.5 215.7,48.8 214.5,51.1 212.2,54.0 213.3,57.6 216.2,61.1 218.3,64.6 218.8,68.6 216.8,71.6 213.9,71.0 212.2,68.1 208.6,69.8 205.7,68.6 202.8,64.6 199.9,65.7 195.2,65.7 191.7,63.4 188.2,62.2 183.5,64.0 180.0,67.5 177.7,71.0 171.9,74.5 165.4,77.4 164.3,81.5 164.9,86.2 162.6,88.5 159.0,92.6 156.7,96.7 150.9,100.2 148.5,104.9 145.6,109.0 141.5,111.9 138.0,115.4 135.1,118.9 132.2,123.0 125.2,124.7 119.5,125.2 117.2,122.6 114.3,124.5 112.0,127.4 109.0,129.8 106.1,132.7 105.5,136.2 108.5,139.1 112.6,139.7 112.6,143.8 113.7,147.3 115.5,149.6 117.8,149.0 119.0,152.0 120.7,156.1 122.5,159.6 123.6,163.6 120.7,165.4 114.9,166.0 109.0,166.8 102.0,166.0 97.4,167.2 95.0,168.9 89.8,170.1 88.0,171.8 84.5,170.7 81.6,169.5 81.0,165.4 78.7,160.7 74.0,159.0 72.3,157.2 71.1,152.6 68.2,150.7 64.7,152.0 60.0,152.7 56.0,153.4 49.0,154.0 40.9,153.2 35.0,154.0 26.9,154.3 21.0,155.1 15.2,155.7 14.6,152.2 15.2,148.1 16.4,144.0 18.7,141.7 22.2,139.4 26.9,138.4 31.5,137.6 32.7,135.3 32.1,132.1 28.0,131.2 27.4,128.9 27.1,124.2 26.3,120.1 23.4,118.4 18.7,117.2 15.2,115.4 12.8,112.5 11.1,109.0 8.8,104.9Z" fill="none" stroke="#fff" stroke-opacity="0.35" stroke-width="0.8"/></g><text x="459.10" y="550.30" font-size="9.6" font-weight="bold" textLength="123.1" lengthAdjust="spacingAndGlyphs">Sustainability (2008 - 2016)</text><rect x="460.6" y="556.90" width="8.8" height="8.7" fill="#f00000"/><text x="473.60" y="564.90" font-size="8.3" textLength="38.6" lengthAdjust="spacingAndGlyphs" fill="#111">0.44 - 0.58</text><rect x="460.6" y="566.72" width="8.8" height="8.7" fill="#ffb010"/><text x="473.60" y="574.72" font-size="8.3" textLength="38.6" lengthAdjust="spacingAndGlyphs" fill="#111">0.59 - 0.72</text><rect x="460.6" y="576.54" width="8.8" height="8.7" fill="#c3f50a"/><text x="473.60" y="584.54" font-size="8.3" textLength="38.6" lengthAdjust="spacingAndGlyphs" fill="#111">0.73 - 0.86</text><rect x="460.6" y="586.36" width="8.8" height="8.7" fill="#00f500"/><text x="473.60" y="594.36" font-size="8.3" textLength="38.6" lengthAdjust="spacingAndGlyphs" fill="#111">0.87 - 1.00</text><text x="677.7" y="6.1" font-size="8" text-anchor="middle" fill="#222">N</text><path d="M677.6,9.3 L685.6,30.6 L677.6,26.3 L670,30.8 Z" fill="#000"/><g stroke="#444" stroke-width="0.5" fill="none"><path d="M268.4,708.8 V704.4 H332.3 V708.8"/><path d="M276.39,704.4 v3.2"/><path d="M284.38,704.4 v3.2"/><path d="M292.37,704.4 v3.2"/><path d="M300.36,704.4 v4"/><path d="M308.35,704.4 v3.2"/><path d="M316.34,704.4 v3.2"/><path d="M324.33,704.4 v3.2"/></g><text x="268.3" y="718.3" font-size="7.7" text-anchor="middle" fill="#111">0</text><text x="284.2" y="718.3" font-size="7.7" text-anchor="middle" fill="#111">150</text><text x="300.5" y="718.3" font-size="7.7" text-anchor="middle" fill="#111">300</text><text x="331.5" y="718.3" font-size="7.7" text-anchor="middle" fill="#111">600</text><text x="339.7" y="718.3" font-size="7.7" fill="#111">km</text></svg></body></html>
